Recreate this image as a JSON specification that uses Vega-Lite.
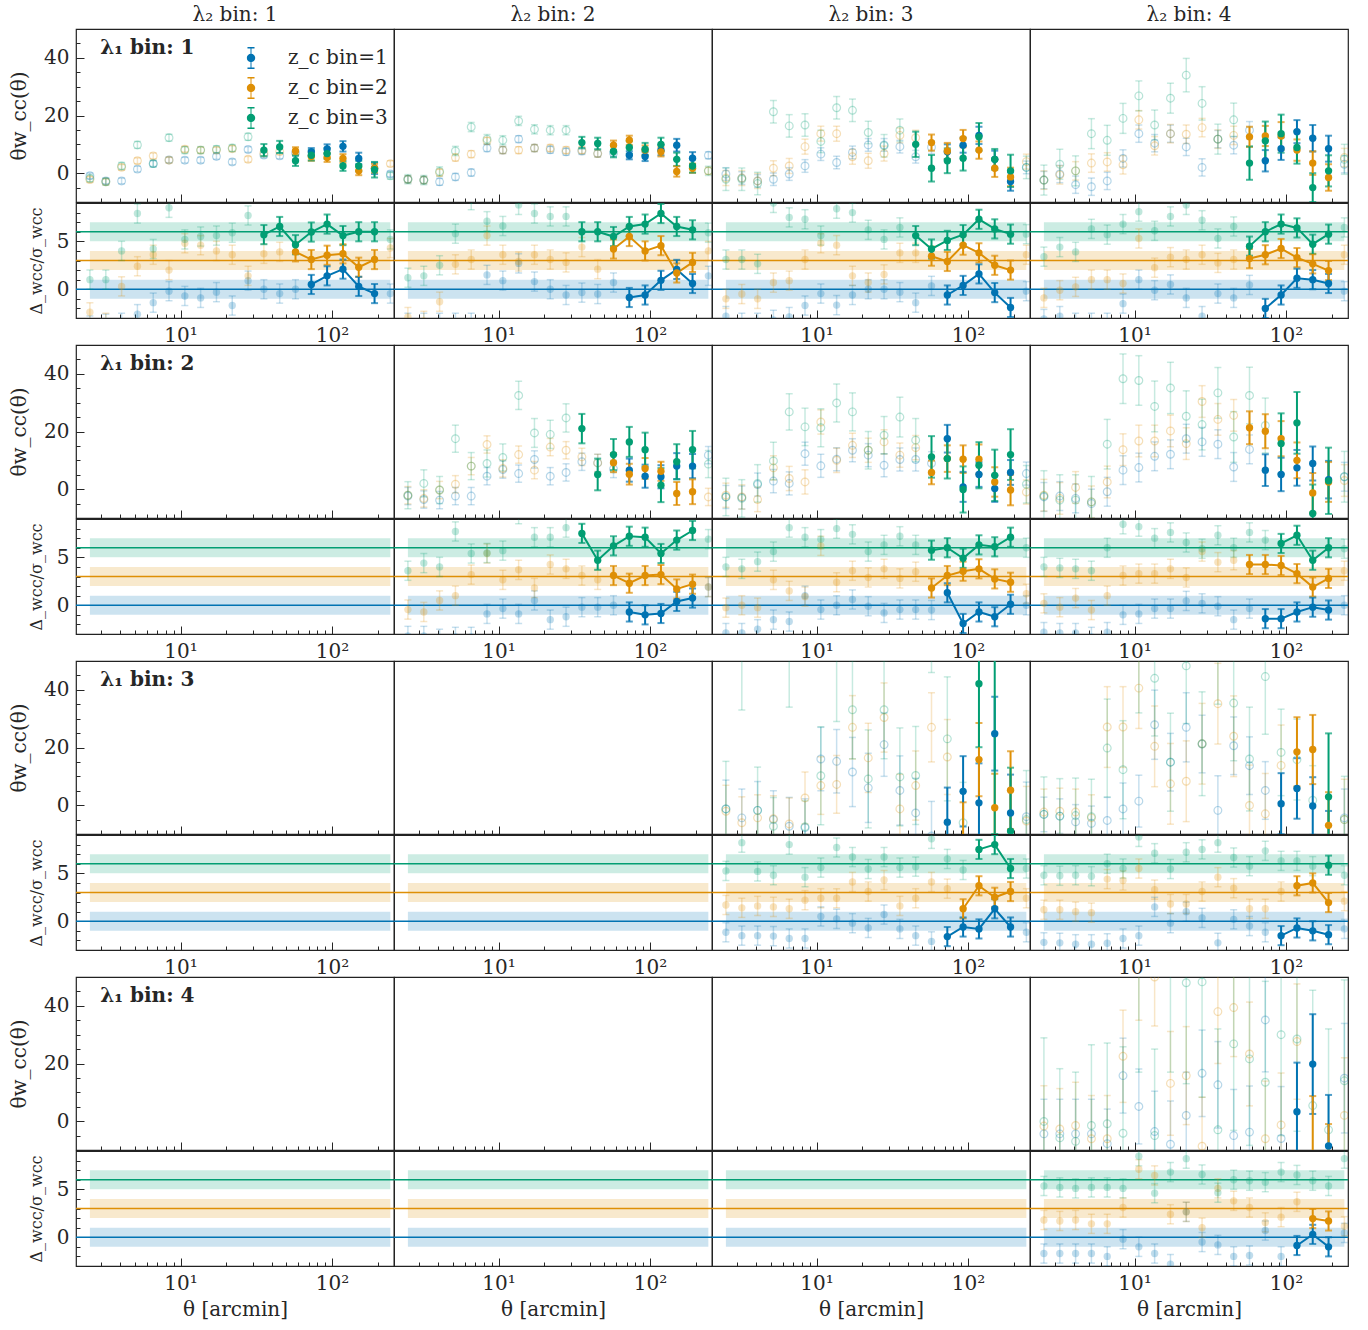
{
"$schema":"https://vega.github.io/schema/vega-lite/v6.json",
"background":"white",
"padding":{"left":9,"top":5,"right":5,"bottom":5},
"config":{
 "font":"DejaVu Serif",
 "view":{"stroke":"#222222","strokeWidth":1.2},
 "legend":{"disable":true},
 "axis":{"grid":false,"domain":false,"labelFont":"DejaVu Serif","titleFont":"DejaVu Serif","labelFontSize":20,"titleFontSize":20,"titleFontWeight":"normal","labelColor":"#262626","titleColor":"#262626","tickColor":"#262626","tickWidth":1},
 "header":{"labelFont":"DejaVu Serif","labelFontSize":20,"labelColor":"#262626","labelPadding":4}
},
"data":{"values":[
{"p":11,"lab":"λ₁ bin: 1"},{"p":21,"lab":"λ₁ bin: 2"},{"p":31,"lab":"λ₁ bin: 3"},{"p":41,"lab":"λ₁ bin: 4"},
{"p":11,"z":1,"lo":-1,"c":0,"hi":1},{"p":11,"z":2,"lo":2,"c":3,"hi":4},{"p":11,"z":3,"lo":5,"c":6,"hi":7},
{"p":12,"z":1,"lo":-1,"c":0,"hi":1},{"p":12,"z":2,"lo":2,"c":3,"hi":4},{"p":12,"z":3,"lo":5,"c":6,"hi":7},
{"p":13,"z":1,"lo":-1,"c":0,"hi":1},{"p":13,"z":2,"lo":2,"c":3,"hi":4},{"p":13,"z":3,"lo":5,"c":6,"hi":7},
{"p":14,"z":1,"lo":-1,"c":0,"hi":1},{"p":14,"z":2,"lo":2,"c":3,"hi":4},{"p":14,"z":3,"lo":5,"c":6,"hi":7},
{"p":21,"z":1,"lo":-1,"c":0,"hi":1},{"p":21,"z":2,"lo":2,"c":3,"hi":4},{"p":21,"z":3,"lo":5,"c":6,"hi":7},
{"p":22,"z":1,"lo":-1,"c":0,"hi":1},{"p":22,"z":2,"lo":2,"c":3,"hi":4},{"p":22,"z":3,"lo":5,"c":6,"hi":7},
{"p":23,"z":1,"lo":-1,"c":0,"hi":1},{"p":23,"z":2,"lo":2,"c":3,"hi":4},{"p":23,"z":3,"lo":5,"c":6,"hi":7},
{"p":24,"z":1,"lo":-1,"c":0,"hi":1},{"p":24,"z":2,"lo":2,"c":3,"hi":4},{"p":24,"z":3,"lo":5,"c":6,"hi":7},
{"p":31,"z":1,"lo":-1,"c":0,"hi":1},{"p":31,"z":2,"lo":2,"c":3,"hi":4},{"p":31,"z":3,"lo":5,"c":6,"hi":7},
{"p":32,"z":1,"lo":-1,"c":0,"hi":1},{"p":32,"z":2,"lo":2,"c":3,"hi":4},{"p":32,"z":3,"lo":5,"c":6,"hi":7},
{"p":33,"z":1,"lo":-1,"c":0,"hi":1},{"p":33,"z":2,"lo":2,"c":3,"hi":4},{"p":33,"z":3,"lo":5,"c":6,"hi":7},
{"p":34,"z":1,"lo":-1,"c":0,"hi":1},{"p":34,"z":2,"lo":2,"c":3,"hi":4},{"p":34,"z":3,"lo":5,"c":6,"hi":7},
{"p":41,"z":1,"lo":-1,"c":0,"hi":1},{"p":41,"z":2,"lo":2,"c":3,"hi":4},{"p":41,"z":3,"lo":5,"c":6,"hi":7},
{"p":42,"z":1,"lo":-1,"c":0,"hi":1},{"p":42,"z":2,"lo":2,"c":3,"hi":4},{"p":42,"z":3,"lo":5,"c":6,"hi":7},
{"p":43,"z":1,"lo":-1,"c":0,"hi":1},{"p":43,"z":2,"lo":2,"c":3,"hi":4},{"p":43,"z":3,"lo":5,"c":6,"hi":7},
{"p":44,"z":1,"lo":-1,"c":0,"hi":1},{"p":44,"z":2,"lo":2,"c":3,"hi":4},{"p":44,"z":3,"lo":5,"c":6,"hi":7},

{"p":11,"z":1,"t":2.52,"v":-0.9,"e":1,"r":-3.8,"s":1,"u":0},
{"p":11,"z":1,"t":3.21,"v":-2.7,"e":1,"r":-3.6,"s":1,"u":0},
{"p":11,"z":1,"t":4.08,"v":-2.7,"e":1,"r":-3.5,"s":1,"u":0},
{"p":11,"z":1,"t":5.19,"v":1.4,"e":1,"r":-2.6,"s":1,"u":0},
{"p":11,"z":1,"t":6.6,"v":3.3,"e":1,"r":-1.4,"s":1,"u":0},
{"p":11,"z":1,"t":8.39,"v":4.6,"e":1,"r":-0.2,"s":1,"u":0},
{"p":11,"z":1,"t":10.67,"v":4.5,"e":1,"r":-0.7,"s":1,"u":0},
{"p":11,"z":1,"t":13.57,"v":4.5,"e":1,"r":-0.9,"s":1,"u":0},
{"p":11,"z":1,"t":17.26,"v":5.8,"e":1,"r":-0.3,"s":1,"u":0},
{"p":11,"z":1,"t":21.94,"v":3.9,"e":1,"r":-1.7,"s":1,"u":0},
{"p":11,"z":1,"t":27.91,"v":8.2,"e":1,"r":0.9,"s":1,"u":0},
{"p":11,"z":1,"t":35.49,"v":6.3,"e":1,"r":0,"s":1,"u":0},
{"p":11,"z":1,"t":45.13,"v":6,"e":1,"r":-0.45,"s":1,"u":0},
{"p":11,"z":1,"t":57.4,"v":7,"e":1,"r":0,"s":1,"u":0},
{"p":11,"z":1,"t":73,"v":7.4,"e":1.3,"r":0.5,"s":1,"u":1},
{"p":11,"z":1,"t":92.8,"v":8.4,"e":1.6,"r":1.4,"s":1,"u":1},
{"p":11,"z":1,"t":118.1,"v":9.3,"e":1.8,"r":2.1,"s":1,"u":1},
{"p":11,"z":1,"t":150.1,"v":5.1,"e":2,"r":0.3,"s":1,"u":1},
{"p":11,"z":1,"t":190.9,"v":1.7,"e":2,"r":-0.45,"s":1,"u":1},
{"p":11,"z":1,"t":242.8,"v":-0.3,"e":1,"r":-0.45,"s":1,"u":0},
{"p":11,"z":2,"t":2.52,"v":-2.2,"e":1,"r":-2.4,"s":1,"u":0},
{"p":11,"z":2,"t":3.21,"v":-3,"e":1,"r":-3.5,"s":1,"u":0},
{"p":11,"z":2,"t":4.08,"v":2,"e":1,"r":0.3,"s":1,"u":0},
{"p":11,"z":2,"t":5.19,"v":4.3,"e":1,"r":2.4,"s":1,"u":0},
{"p":11,"z":2,"t":6.6,"v":6,"e":1,"r":3.6,"s":1,"u":0},
{"p":11,"z":2,"t":8.39,"v":4.5,"e":1,"r":2,"s":1,"u":0},
{"p":11,"z":2,"t":10.67,"v":8.3,"e":1,"r":4.8,"s":1,"u":0},
{"p":11,"z":2,"t":13.57,"v":8,"e":1,"r":4.6,"s":1,"u":0},
{"p":11,"z":2,"t":17.26,"v":8,"e":1,"r":4,"s":1,"u":0},
{"p":11,"z":2,"t":21.94,"v":8.5,"e":1,"r":3.6,"s":1,"u":0},
{"p":11,"z":2,"t":27.91,"v":4.8,"e":1,"r":1.4,"s":1,"u":0},
{"p":11,"z":2,"t":35.49,"v":7,"e":1,"r":3.7,"s":1,"u":0},
{"p":11,"z":2,"t":45.13,"v":7.5,"e":1,"r":3.9,"s":1,"u":0},
{"p":11,"z":2,"t":57.4,"v":7.7,"e":1.3,"r":3.9,"s":1,"u":1},
{"p":11,"z":2,"t":73,"v":5.8,"e":1.5,"r":3.1,"s":1,"u":1},
{"p":11,"z":2,"t":92.8,"v":5.4,"e":1.5,"r":3.55,"s":1,"u":1},
{"p":11,"z":2,"t":118.1,"v":5.1,"e":1.5,"r":3.7,"s":1,"u":1},
{"p":11,"z":2,"t":150.1,"v":0.8,"e":1.5,"r":2.3,"s":1,"u":1},
{"p":11,"z":2,"t":190.9,"v":1.7,"e":1.5,"r":3.1,"s":1,"u":1},
{"p":11,"z":2,"t":242.8,"v":3.3,"e":1,"r":4.3,"s":1,"u":0},
{"p":11,"z":3,"t":2.52,"v":-1.8,"e":1.2,"r":1,"s":1,"u":0},
{"p":11,"z":3,"t":3.21,"v":-3,"e":1.2,"r":1,"s":1,"u":0},
{"p":11,"z":3,"t":4.08,"v":2.5,"e":1.2,"r":4,"s":1,"u":0},
{"p":11,"z":3,"t":5.19,"v":9.8,"e":1.2,"r":7.9,"s":1,"u":0},
{"p":11,"z":3,"t":6.6,"v":3.3,"e":1.2,"r":4.2,"s":1,"u":0},
{"p":11,"z":3,"t":8.39,"v":12.3,"e":1.2,"r":8.5,"s":1,"u":0},
{"p":11,"z":3,"t":10.67,"v":8,"e":1.2,"r":5.2,"s":1,"u":0},
{"p":11,"z":3,"t":13.57,"v":8,"e":1.2,"r":5.5,"s":1,"u":0},
{"p":11,"z":3,"t":17.26,"v":8.3,"e":1.2,"r":5.6,"s":1,"u":0},
{"p":11,"z":3,"t":21.94,"v":8.7,"e":1.2,"r":5.9,"s":1,"u":0},
{"p":11,"z":3,"t":27.91,"v":12.6,"e":1.2,"r":7.7,"s":1,"u":0},
{"p":11,"z":3,"t":35.49,"v":8,"e":2.1,"r":5.7,"s":1,"u":1},
{"p":11,"z":3,"t":45.13,"v":9.1,"e":2.1,"r":6.55,"s":1,"u":1},
{"p":11,"z":3,"t":57.4,"v":4.3,"e":1.8,"r":4.65,"s":1,"u":1},
{"p":11,"z":3,"t":73,"v":6.2,"e":1.8,"r":5.97,"s":1,"u":1},
{"p":11,"z":3,"t":92.8,"v":6.8,"e":1.8,"r":6.8,"s":1,"u":1},
{"p":11,"z":3,"t":118.1,"v":2.5,"e":1.7,"r":5.6,"s":1,"u":1},
{"p":11,"z":3,"t":150.1,"v":2.5,"e":1.8,"r":6,"s":1,"u":1},
{"p":11,"z":3,"t":190.9,"v":1.2,"e":2.7,"r":6,"s":1,"u":1},
{"p":11,"z":3,"t":242.8,"v":-0.9,"e":1.2,"r":5.2,"s":1,"u":0},

{"p":12,"z":1,"t":2.52,"v":-2.1,"e":1.2,"r":-3.5,"s":1,"u":0},
{"p":12,"z":1,"t":3.21,"v":-2.4,"e":1.2,"r":-3.5,"s":1,"u":0},
{"p":12,"z":1,"t":4.08,"v":-3,"e":1.2,"r":-3.5,"s":1,"u":0},
{"p":12,"z":1,"t":5.19,"v":-1.3,"e":1.2,"r":-3.5,"s":1,"u":0},
{"p":12,"z":1,"t":6.6,"v":0.2,"e":1.2,"r":-3.5,"s":1,"u":0},
{"p":12,"z":1,"t":8.39,"v":8.7,"e":1.2,"r":1.5,"s":1,"u":0},
{"p":12,"z":1,"t":10.67,"v":8,"e":1.2,"r":0.9,"s":1,"u":0},
{"p":12,"z":1,"t":13.57,"v":11.8,"e":1.2,"r":2.7,"s":1,"u":0},
{"p":12,"z":1,"t":17.26,"v":8.7,"e":1.2,"r":0.8,"s":1,"u":0},
{"p":12,"z":1,"t":21.94,"v":8.1,"e":1.2,"r":0,"s":1,"u":0},
{"p":12,"z":1,"t":27.91,"v":7.4,"e":1.2,"r":-0.6,"s":1,"u":0},
{"p":12,"z":1,"t":35.49,"v":7.7,"e":1.2,"r":-0.35,"s":1,"u":0},
{"p":12,"z":1,"t":45.13,"v":6.8,"e":1.2,"r":-0.5,"s":1,"u":0},
{"p":12,"z":1,"t":57.4,"v":7,"e":1.2,"r":0.7,"s":1,"u":0},
{"p":12,"z":1,"t":73,"v":6.2,"e":1.4,"r":-0.86,"s":1,"u":1},
{"p":12,"z":1,"t":92.8,"v":5.8,"e":1.6,"r":-0.6,"s":1,"u":1},
{"p":12,"z":1,"t":118.1,"v":8,"e":1.8,"r":0.93,"s":1,"u":1},
{"p":12,"z":1,"t":150.1,"v":9.7,"e":2.2,"r":2.07,"s":1,"u":1},
{"p":12,"z":1,"t":190.9,"v":5.2,"e":2.1,"r":0.6,"s":1,"u":1},
{"p":12,"z":1,"t":242.8,"v":6.2,"e":1.2,"r":1.4,"s":1,"u":0},
{"p":12,"z":2,"t":2.52,"v":-2.1,"e":1.2,"r":-2.9,"s":1,"u":0},
{"p":12,"z":2,"t":3.21,"v":-2.4,"e":1.2,"r":-3.3,"s":1,"u":0},
{"p":12,"z":2,"t":4.08,"v":0.2,"e":1.2,"r":-1.3,"s":1,"u":0},
{"p":12,"z":2,"t":5.19,"v":5.4,"e":1.2,"r":2.6,"s":1,"u":0},
{"p":12,"z":2,"t":6.6,"v":6.6,"e":1.2,"r":3.1,"s":1,"u":0},
{"p":12,"z":2,"t":8.39,"v":11.2,"e":1.2,"r":5.6,"s":1,"u":0},
{"p":12,"z":2,"t":10.67,"v":8,"e":1.2,"r":3.6,"s":1,"u":0},
{"p":12,"z":2,"t":13.57,"v":8,"e":1.2,"r":2.9,"s":1,"u":0},
{"p":12,"z":2,"t":17.26,"v":8.7,"e":1.2,"r":3.6,"s":1,"u":0},
{"p":12,"z":2,"t":21.94,"v":8.7,"e":1.2,"r":3.1,"s":1,"u":0},
{"p":12,"z":2,"t":27.91,"v":8,"e":1.2,"r":2.8,"s":1,"u":0},
{"p":12,"z":2,"t":35.49,"v":8,"e":1.2,"r":4.4,"s":1,"u":0},
{"p":12,"z":2,"t":45.13,"v":6.8,"e":1.2,"r":2.1,"s":1,"u":0},
{"p":12,"z":2,"t":57.4,"v":9.7,"e":1.6,"r":4.2,"s":1,"u":1},
{"p":12,"z":2,"t":73,"v":11.4,"e":1.6,"r":5.5,"s":1,"u":1},
{"p":12,"z":2,"t":92.8,"v":8,"e":1.6,"r":4,"s":1,"u":1},
{"p":12,"z":2,"t":118.1,"v":7.4,"e":1.6,"r":4.55,"s":1,"u":1},
{"p":12,"z":2,"t":150.1,"v":0.6,"e":1.8,"r":1.7,"s":1,"u":1},
{"p":12,"z":2,"t":190.9,"v":1.7,"e":1.6,"r":2.8,"s":1,"u":1},
{"p":12,"z":2,"t":242.8,"v":0.8,"e":1.2,"r":4,"s":1,"u":0},
{"p":12,"z":3,"t":2.52,"v":-2.1,"e":1.6,"r":1.2,"s":1,"u":0},
{"p":12,"z":3,"t":3.21,"v":-2.4,"e":1.6,"r":1.4,"s":1,"u":0},
{"p":12,"z":3,"t":4.08,"v":0.6,"e":1.6,"r":2.5,"s":1,"u":0},
{"p":12,"z":3,"t":5.19,"v":7.7,"e":1.6,"r":5.8,"s":1,"u":0},
{"p":12,"z":3,"t":6.6,"v":16,"e":1.6,"r":9.3,"s":1,"u":0},
{"p":12,"z":3,"t":8.39,"v":11.8,"e":1.6,"r":7.1,"s":1,"u":0},
{"p":12,"z":3,"t":10.67,"v":11.4,"e":1.6,"r":6.6,"s":1,"u":0},
{"p":12,"z":3,"t":13.57,"v":18.1,"e":1.6,"r":8.8,"s":1,"u":0},
{"p":12,"z":3,"t":17.26,"v":15.2,"e":1.6,"r":7.9,"s":1,"u":0},
{"p":12,"z":3,"t":21.94,"v":14.9,"e":1.6,"r":7.6,"s":1,"u":0},
{"p":12,"z":3,"t":27.91,"v":14.9,"e":1.6,"r":7.6,"s":1,"u":0},
{"p":12,"z":3,"t":35.49,"v":10.6,"e":2,"r":6,"s":1,"u":1},
{"p":12,"z":3,"t":45.13,"v":10.3,"e":2,"r":6,"s":1,"u":1},
{"p":12,"z":3,"t":57.4,"v":7.5,"e":2,"r":5.5,"s":1,"u":1},
{"p":12,"z":3,"t":73,"v":8.9,"e":2.2,"r":6.55,"s":1,"u":1},
{"p":12,"z":3,"t":92.8,"v":8.3,"e":2.2,"r":6.8,"s":1,"u":1},
{"p":12,"z":3,"t":118.1,"v":10,"e":2.3,"r":7.9,"s":1,"u":1},
{"p":12,"z":3,"t":150.1,"v":4.8,"e":2.3,"r":6.55,"s":1,"u":1},
{"p":12,"z":3,"t":190.9,"v":2.5,"e":2.3,"r":6.2,"s":1,"u":1},
{"p":12,"z":3,"t":242.8,"v":0.8,"e":1.6,"r":5.9,"s":1,"u":0},

{"p":13,"z":1,"t":2.52,"v":-0.3,"e":2.2,"r":-2.8,"s":1,"u":0},
{"p":13,"z":1,"t":3.21,"v":-1.7,"e":2.2,"r":-3.5,"s":1,"u":0},
{"p":13,"z":1,"t":4.08,"v":-2.7,"e":2.2,"r":-3.5,"s":1,"u":0},
{"p":13,"z":1,"t":5.19,"v":-2.1,"e":2.2,"r":-3.2,"s":1,"u":0},
{"p":13,"z":1,"t":6.6,"v":-0.3,"e":2.2,"r":-2.9,"s":1,"u":0},
{"p":13,"z":1,"t":8.39,"v":2.5,"e":2.2,"r":-1.7,"s":1,"u":0},
{"p":13,"z":1,"t":10.67,"v":6.6,"e":2.2,"r":-0.45,"s":1,"u":0},
{"p":13,"z":1,"t":13.57,"v":3.7,"e":2.2,"r":-1.65,"s":1,"u":0},
{"p":13,"z":1,"t":17.26,"v":7.2,"e":2.2,"r":-0.6,"s":1,"u":0},
{"p":13,"z":1,"t":21.94,"v":9.8,"e":2.2,"r":0,"s":1,"u":0},
{"p":13,"z":1,"t":27.91,"v":9.8,"e":2.2,"r":0,"s":1,"u":0},
{"p":13,"z":1,"t":35.49,"v":9.2,"e":2.2,"r":-0.3,"s":1,"u":0},
{"p":13,"z":1,"t":45.13,"v":5.7,"e":2.2,"r":-1.4,"s":1,"u":0},
{"p":13,"z":1,"t":57.4,"v":9,"e":2.2,"r":0.35,"s":1,"u":0},
{"p":13,"z":1,"t":73,"v":7.4,"e":2.6,"r":-0.6,"s":1,"u":1},
{"p":13,"z":1,"t":92.8,"v":9.7,"e":2.6,"r":0.4,"s":1,"u":1},
{"p":13,"z":1,"t":118.1,"v":13.1,"e":3,"r":1.6,"s":1,"u":1},
{"p":13,"z":1,"t":150.1,"v":4.8,"e":3,"r":-0.35,"s":1,"u":1},
{"p":13,"z":1,"t":190.9,"v":-2.9,"e":3.2,"r":-1.9,"s":1,"u":1},
{"p":13,"z":1,"t":242.8,"v":2,"e":2.2,"r":-0.2,"s":1,"u":0},
{"p":13,"z":2,"t":2.52,"v":-1.7,"e":2.6,"r":-1,"s":1,"u":0},
{"p":13,"z":2,"t":3.21,"v":-1.7,"e":2.6,"r":-0.5,"s":1,"u":0},
{"p":13,"z":2,"t":4.08,"v":-2.7,"e":2.6,"r":-1,"s":1,"u":0},
{"p":13,"z":2,"t":5.19,"v":1.7,"e":2.6,"r":0.7,"s":1,"u":0},
{"p":13,"z":2,"t":6.6,"v":2.5,"e":2.6,"r":0.9,"s":1,"u":0},
{"p":13,"z":2,"t":8.39,"v":9.2,"e":2.6,"r":3.1,"s":1,"u":0},
{"p":13,"z":2,"t":10.67,"v":13.7,"e":2.6,"r":4.8,"s":1,"u":0},
{"p":13,"z":2,"t":13.57,"v":13.7,"e":2.6,"r":4.6,"s":1,"u":0},
{"p":13,"z":2,"t":17.26,"v":5.7,"e":2.6,"r":1.4,"s":1,"u":0},
{"p":13,"z":2,"t":21.94,"v":4.3,"e":2.6,"r":0.7,"s":1,"u":0},
{"p":13,"z":2,"t":27.91,"v":6.8,"e":2.6,"r":1.55,"s":1,"u":0},
{"p":13,"z":2,"t":35.49,"v":13.1,"e":2.6,"r":3.8,"s":1,"u":0},
{"p":13,"z":2,"t":45.13,"v":12.3,"e":2.6,"r":3.8,"s":1,"u":0},
{"p":13,"z":2,"t":57.4,"v":10.6,"e":2.8,"r":3.45,"s":1,"u":1},
{"p":13,"z":2,"t":73,"v":7.7,"e":2.8,"r":2.9,"s":1,"u":1},
{"p":13,"z":2,"t":92.8,"v":12,"e":3,"r":4.6,"s":1,"u":1},
{"p":13,"z":2,"t":118.1,"v":8,"e":3,"r":3.8,"s":1,"u":1},
{"p":13,"z":2,"t":150.1,"v":1.7,"e":3,"r":2.5,"s":1,"u":1},
{"p":13,"z":2,"t":190.9,"v":-1.3,"e":3.2,"r":2,"s":1,"u":1},
{"p":13,"z":2,"t":242.8,"v":4,"e":2.6,"r":3.6,"s":1,"u":0},
{"p":13,"z":3,"t":2.52,"v":-2.1,"e":3.9,"r":3.1,"s":1,"u":0},
{"p":13,"z":3,"t":3.21,"v":-2.1,"e":3.9,"r":3.1,"s":1,"u":0},
{"p":13,"z":3,"t":4.08,"v":-3.6,"e":3.9,"r":2.65,"s":1,"u":0},
{"p":13,"z":3,"t":5.19,"v":21.3,"e":3.9,"r":9,"s":1,"u":0},
{"p":13,"z":3,"t":6.6,"v":16.4,"e":3.9,"r":7.5,"s":1,"u":0},
{"p":13,"z":3,"t":8.39,"v":16.7,"e":3.9,"r":7.3,"s":1,"u":0},
{"p":13,"z":3,"t":10.67,"v":11,"e":3.9,"r":5.6,"s":1,"u":0},
{"p":13,"z":3,"t":13.57,"v":22.7,"e":3.9,"r":8.4,"s":1,"u":0},
{"p":13,"z":3,"t":17.26,"v":21.8,"e":3.9,"r":8,"s":1,"u":0},
{"p":13,"z":3,"t":21.94,"v":14.1,"e":3.9,"r":6.2,"s":1,"u":0},
{"p":13,"z":3,"t":27.91,"v":9.5,"e":3.9,"r":5.2,"s":1,"u":0},
{"p":13,"z":3,"t":35.49,"v":14.9,"e":3.9,"r":6.45,"s":1,"u":0},
{"p":13,"z":3,"t":45.13,"v":10,"e":4.4,"r":5.6,"s":1,"u":1},
{"p":13,"z":3,"t":57.4,"v":1.7,"e":4.6,"r":4.2,"s":1,"u":1},
{"p":13,"z":3,"t":73,"v":4.3,"e":4.3,"r":5.1,"s":1,"u":1},
{"p":13,"z":3,"t":92.8,"v":5.2,"e":4.3,"r":5.7,"s":1,"u":1},
{"p":13,"z":3,"t":118.1,"v":12.6,"e":4.8,"r":7.3,"s":1,"u":1},
{"p":13,"z":3,"t":150.1,"v":4.8,"e":3.6,"r":6.3,"s":1,"u":1},
{"p":13,"z":3,"t":190.9,"v":0.8,"e":5.6,"r":5.75,"s":1,"u":1},
{"p":13,"z":3,"t":242.8,"v":2,"e":3.9,"r":5.75,"s":1,"u":0},

{"p":14,"z":1,"t":2.52,"v":-2.4,"e":3,"r":-3.1,"s":1,"u":0},
{"p":14,"z":1,"t":3.21,"v":-0.3,"e":3,"r":-2.8,"s":1,"u":0},
{"p":14,"z":1,"t":4.08,"v":-4,"e":3,"r":-3.5,"s":1,"u":0},
{"p":14,"z":1,"t":5.19,"v":-4.7,"e":3,"r":-3.5,"s":1,"u":0},
{"p":14,"z":1,"t":6.6,"v":-2.7,"e":3,"r":-3.5,"s":1,"u":0},
{"p":14,"z":1,"t":8.39,"v":5.1,"e":3,"r":-1.5,"s":1,"u":0},
{"p":14,"z":1,"t":10.67,"v":13.7,"e":3,"r":1,"s":1,"u":0},
{"p":14,"z":1,"t":13.57,"v":10.4,"e":3,"r":-0.1,"s":1,"u":0},
{"p":14,"z":1,"t":17.26,"v":13.7,"e":3,"r":0.5,"s":1,"u":0},
{"p":14,"z":1,"t":21.94,"v":9.1,"e":3,"r":-0.9,"s":1,"u":0},
{"p":14,"z":1,"t":27.91,"v":2,"e":3,"r":-2.8,"s":1,"u":0},
{"p":14,"z":1,"t":35.49,"v":11.8,"e":3,"r":-0.45,"s":1,"u":0},
{"p":14,"z":1,"t":45.13,"v":9.7,"e":3,"r":-0.9,"s":1,"u":0},
{"p":14,"z":1,"t":57.4,"v":14.9,"e":3,"r":0.45,"s":1,"u":0},
{"p":14,"z":1,"t":73,"v":4.3,"e":3.7,"r":-2,"s":1,"u":1},
{"p":14,"z":1,"t":92.8,"v":8.5,"e":3.9,"r":-0.6,"s":1,"u":1},
{"p":14,"z":1,"t":118.1,"v":14.4,"e":4,"r":1.15,"s":1,"u":1},
{"p":14,"z":1,"t":150.1,"v":12.1,"e":4.6,"r":1,"s":1,"u":1},
{"p":14,"z":1,"t":190.9,"v":8.5,"e":4.5,"r":0.6,"s":1,"u":1},
{"p":14,"z":1,"t":242.8,"v":3.1,"e":3,"r":-0.2,"s":1,"u":0},
{"p":14,"z":2,"t":2.52,"v":-2.4,"e":3.2,"r":-0.9,"s":1,"u":0},
{"p":14,"z":2,"t":3.21,"v":-0.6,"e":3.2,"r":-0.1,"s":1,"u":0},
{"p":14,"z":2,"t":4.08,"v":0.8,"e":3.2,"r":0.25,"s":1,"u":0},
{"p":14,"z":2,"t":5.19,"v":3.5,"e":3.2,"r":1,"s":1,"u":0},
{"p":14,"z":2,"t":6.6,"v":3.9,"e":3.2,"r":1,"s":1,"u":0},
{"p":14,"z":2,"t":8.39,"v":2.9,"e":3.2,"r":0.6,"s":1,"u":0},
{"p":14,"z":2,"t":10.67,"v":18.5,"e":3.2,"r":5.3,"s":1,"u":0},
{"p":14,"z":2,"t":13.57,"v":9.5,"e":3.2,"r":2.25,"s":1,"u":0},
{"p":14,"z":2,"t":17.26,"v":13.7,"e":3.2,"r":3.35,"s":1,"u":0},
{"p":14,"z":2,"t":21.94,"v":13.5,"e":3.2,"r":3.1,"s":1,"u":0},
{"p":14,"z":2,"t":27.91,"v":15.8,"e":3.2,"r":3.6,"s":1,"u":0},
{"p":14,"z":2,"t":35.49,"v":11.8,"e":3.2,"r":2.75,"s":1,"u":0},
{"p":14,"z":2,"t":45.13,"v":13.1,"e":3.2,"r":3.1,"s":1,"u":0},
{"p":14,"z":2,"t":57.4,"v":12.6,"e":3.5,"r":3.2,"s":1,"u":1},
{"p":14,"z":2,"t":73,"v":12.9,"e":3.5,"r":3.6,"s":1,"u":1},
{"p":14,"z":2,"t":92.8,"v":12.9,"e":4.8,"r":4.25,"s":1,"u":1},
{"p":14,"z":2,"t":118.1,"v":8,"e":3.7,"r":3.3,"s":1,"u":1},
{"p":14,"z":2,"t":150.1,"v":3.5,"e":4.1,"r":2.65,"s":1,"u":1},
{"p":14,"z":2,"t":190.9,"v":-1.5,"e":4.6,"r":1.95,"s":1,"u":1},
{"p":14,"z":2,"t":242.8,"v":5.4,"e":3.2,"r":3.6,"s":1,"u":0},
{"p":14,"z":3,"t":2.52,"v":-2.4,"e":5.2,"r":3.4,"s":1,"u":0},
{"p":14,"z":3,"t":3.21,"v":3.1,"e":5.2,"r":4.4,"s":1,"u":0},
{"p":14,"z":3,"t":4.08,"v":0.8,"e":5.2,"r":3.9,"s":1,"u":0},
{"p":14,"z":3,"t":5.19,"v":13.7,"e":5.2,"r":6.3,"s":1,"u":0},
{"p":14,"z":3,"t":6.6,"v":11.4,"e":5.2,"r":5.7,"s":1,"u":0},
{"p":14,"z":3,"t":8.39,"v":19,"e":5.2,"r":6.8,"s":1,"u":0},
{"p":14,"z":3,"t":10.67,"v":26.8,"e":5.2,"r":8.1,"s":1,"u":0},
{"p":14,"z":3,"t":13.57,"v":16.7,"e":5.2,"r":6.1,"s":1,"u":0},
{"p":14,"z":3,"t":17.26,"v":26,"e":5.2,"r":7.6,"s":1,"u":0},
{"p":14,"z":3,"t":21.94,"v":34,"e":5.8,"r":8.8,"s":1,"u":0},
{"p":14,"z":3,"t":27.91,"v":24.2,"e":5.8,"r":7.2,"s":1,"u":0},
{"p":14,"z":3,"t":35.49,"v":11.8,"e":5.2,"r":5.3,"s":1,"u":0},
{"p":14,"z":3,"t":45.13,"v":18.5,"e":5.8,"r":6.55,"s":1,"u":0},
{"p":14,"z":3,"t":57.4,"v":3.5,"e":5.8,"r":4.5,"s":1,"u":1},
{"p":14,"z":3,"t":73,"v":11.2,"e":6.7,"r":6,"s":1,"u":1},
{"p":14,"z":3,"t":92.8,"v":13.7,"e":6.6,"r":6.8,"s":1,"u":1},
{"p":14,"z":3,"t":118.1,"v":8.9,"e":5.6,"r":6.4,"s":1,"u":1},
{"p":14,"z":3,"t":150.1,"v":-5,"e":5,"r":4.7,"s":1,"u":1},
{"p":14,"z":3,"t":190.9,"v":0.8,"e":5.4,"r":5.75,"s":1,"u":1},
{"p":14,"z":3,"t":242.8,"v":4.8,"e":5.2,"r":6.45,"s":1,"u":0},

{"p":22,"z":1,"t":2.52,"v":-2.4,"e":3,"r":-3.2,"s":1,"u":0},
{"p":22,"z":1,"t":3.21,"v":-3.6,"e":3,"r":-3.2,"s":1,"u":0},
{"p":22,"z":1,"t":4.08,"v":-3.8,"e":3,"r":-3.5,"s":1,"u":0},
{"p":22,"z":1,"t":5.19,"v":-2.4,"e":3,"r":-3.3,"s":1,"u":0},
{"p":22,"z":1,"t":6.6,"v":-2.4,"e":3,"r":-3.3,"s":1,"u":0},
{"p":22,"z":1,"t":8.39,"v":4.5,"e":3,"r":-0.9,"s":1,"u":0},
{"p":22,"z":1,"t":10.67,"v":6.8,"e":3,"r":-0.35,"s":1,"u":0},
{"p":22,"z":1,"t":13.57,"v":5.4,"e":3,"r":-0.9,"s":1,"u":0},
{"p":22,"z":1,"t":17.26,"v":10.3,"e":3,"r":0.5,"s":1,"u":0},
{"p":22,"z":1,"t":21.94,"v":4.5,"e":3,"r":-1.5,"s":1,"u":0},
{"p":22,"z":1,"t":27.91,"v":5.8,"e":3,"r":-1.2,"s":1,"u":0},
{"p":22,"z":1,"t":35.49,"v":9.5,"e":3,"r":-0.2,"s":1,"u":0},
{"p":22,"z":1,"t":45.13,"v":9.1,"e":3,"r":-0.2,"s":1,"u":0},
{"p":22,"z":1,"t":57.4,"v":7,"e":3,"r":0,"s":1,"u":0},
{"p":22,"z":1,"t":73,"v":6.6,"e":4,"r":-0.7,"s":1,"u":1},
{"p":22,"z":1,"t":92.8,"v":4.5,"e":4,"r":-1,"s":1,"u":1},
{"p":22,"z":1,"t":118.1,"v":4.3,"e":4,"r":-0.86,"s":1,"u":1},
{"p":22,"z":1,"t":150.1,"v":8,"e":4.5,"r":0.4,"s":1,"u":1},
{"p":22,"z":1,"t":190.9,"v":8,"e":4.2,"r":0.75,"s":1,"u":1},
{"p":22,"z":1,"t":242.8,"v":11.8,"e":3,"r":1.9,"s":1,"u":0},
{"p":22,"z":2,"t":2.52,"v":-2.1,"e":3,"r":-0.45,"s":1,"u":0},
{"p":22,"z":2,"t":3.21,"v":-3.2,"e":3,"r":-0.7,"s":1,"u":0},
{"p":22,"z":2,"t":4.08,"v":-0.3,"e":3,"r":0.5,"s":1,"u":0},
{"p":22,"z":2,"t":5.19,"v":1.7,"e":3,"r":1,"s":1,"u":0},
{"p":22,"z":2,"t":6.6,"v":8,"e":3,"r":3.2,"s":1,"u":0},
{"p":22,"z":2,"t":8.39,"v":15.5,"e":3,"r":5.4,"s":1,"u":0},
{"p":22,"z":2,"t":10.67,"v":7.2,"e":3,"r":2.65,"s":1,"u":0},
{"p":22,"z":2,"t":13.57,"v":12,"e":3,"r":3.7,"s":1,"u":0},
{"p":22,"z":2,"t":17.26,"v":6.6,"e":3,"r":1.8,"s":1,"u":0},
{"p":22,"z":2,"t":21.94,"v":14.6,"e":3,"r":4.25,"s":1,"u":0},
{"p":22,"z":2,"t":27.91,"v":13.5,"e":3,"r":3.8,"s":1,"u":0},
{"p":22,"z":2,"t":35.49,"v":11.2,"e":3,"r":3.1,"s":1,"u":0},
{"p":22,"z":2,"t":45.13,"v":9.1,"e":3,"r":2.65,"s":1,"u":0},
{"p":22,"z":2,"t":57.4,"v":9.2,"e":3.3,"r":3.1,"s":1,"u":1},
{"p":22,"z":2,"t":73,"v":5.2,"e":3.6,"r":2.3,"s":1,"u":1},
{"p":22,"z":2,"t":92.8,"v":7.2,"e":3.6,"r":3.1,"s":1,"u":1},
{"p":22,"z":2,"t":118.1,"v":6.2,"e":3.3,"r":3.2,"s":1,"u":1},
{"p":22,"z":2,"t":150.1,"v":-1.5,"e":4,"r":1.7,"s":1,"u":1},
{"p":22,"z":2,"t":190.9,"v":-0.9,"e":4.3,"r":2.2,"s":1,"u":1},
{"p":22,"z":2,"t":242.8,"v":-2.7,"e":3,"r":1.9,"s":1,"u":0},
{"p":22,"z":3,"t":2.52,"v":-2.1,"e":4.7,"r":3.6,"s":1,"u":0},
{"p":22,"z":3,"t":3.21,"v":2,"e":4.7,"r":4.4,"s":1,"u":0},
{"p":22,"z":3,"t":4.08,"v":-0.3,"e":4.7,"r":4,"s":1,"u":0},
{"p":22,"z":3,"t":5.19,"v":17.5,"e":4.7,"r":7.7,"s":1,"u":0},
{"p":22,"z":3,"t":6.6,"v":8,"e":4.7,"r":5.4,"s":1,"u":0},
{"p":22,"z":3,"t":8.39,"v":8.9,"e":4.7,"r":5.45,"s":1,"u":0},
{"p":22,"z":3,"t":10.67,"v":11,"e":4.7,"r":5.7,"s":1,"u":0},
{"p":22,"z":3,"t":13.57,"v":32.5,"e":4.9,"r":9.5,"s":1,"u":0},
{"p":22,"z":3,"t":17.26,"v":19.5,"e":5,"r":7.1,"s":1,"u":0},
{"p":22,"z":3,"t":21.94,"v":19,"e":4.9,"r":7.1,"s":1,"u":0},
{"p":22,"z":3,"t":27.91,"v":24.7,"e":4.9,"r":8.1,"s":1,"u":0},
{"p":22,"z":3,"t":35.49,"v":21,"e":5.1,"r":7.5,"s":1,"u":1},
{"p":22,"z":3,"t":45.13,"v":5.1,"e":5.5,"r":4.7,"s":1,"u":1},
{"p":22,"z":3,"t":57.4,"v":12,"e":5.4,"r":6.2,"s":1,"u":1},
{"p":22,"z":3,"t":73,"v":16.4,"e":5.2,"r":7.2,"s":1,"u":1},
{"p":22,"z":3,"t":92.8,"v":13.7,"e":5.9,"r":7.1,"s":1,"u":1},
{"p":22,"z":3,"t":118.1,"v":1.4,"e":5.9,"r":5.4,"s":1,"u":1},
{"p":22,"z":3,"t":150.1,"v":9.5,"e":6.1,"r":6.8,"s":1,"u":1},
{"p":22,"z":3,"t":190.9,"v":13.7,"e":6.5,"r":7.8,"s":1,"u":1},
{"p":22,"z":3,"t":242.8,"v":8.7,"e":4.7,"r":6.9,"s":1,"u":0},

{"p":23,"z":1,"t":2.52,"v":-2.7,"e":4,"r":-2.9,"s":1,"u":0},
{"p":23,"z":1,"t":3.21,"v":-2.9,"e":4,"r":-2.9,"s":1,"u":0},
{"p":23,"z":1,"t":4.08,"v":1.6,"e":4,"r":-2.5,"s":1,"u":0},
{"p":23,"z":1,"t":5.19,"v":2.8,"e":4,"r":-1.5,"s":1,"u":0},
{"p":23,"z":1,"t":6.6,"v":2,"e":4,"r":-1.7,"s":1,"u":0},
{"p":23,"z":1,"t":8.39,"v":12.3,"e":4,"r":1,"s":1,"u":0},
{"p":23,"z":1,"t":10.67,"v":8.1,"e":4,"r":-0.45,"s":1,"u":0},
{"p":23,"z":1,"t":13.57,"v":10.4,"e":4,"r":0,"s":1,"u":0},
{"p":23,"z":1,"t":17.26,"v":13.5,"e":4,"r":0.6,"s":1,"u":0},
{"p":23,"z":1,"t":21.94,"v":11.8,"e":4,"r":-0.1,"s":1,"u":0},
{"p":23,"z":1,"t":27.91,"v":8.3,"e":4,"r":-0.8,"s":1,"u":0},
{"p":23,"z":1,"t":35.49,"v":10.3,"e":4,"r":-0.45,"s":1,"u":0},
{"p":23,"z":1,"t":45.13,"v":10.3,"e":4,"r":-0.45,"s":1,"u":0},
{"p":23,"z":1,"t":57.4,"v":9,"e":4,"r":-0.5,"s":1,"u":0},
{"p":23,"z":1,"t":73,"v":17.5,"e":4.8,"r":1.3,"s":1,"u":1},
{"p":23,"z":1,"t":92.8,"v":0.8,"e":5.2,"r":-1.9,"s":1,"u":1},
{"p":23,"z":1,"t":118.1,"v":5.1,"e":4.3,"r":-0.7,"s":1,"u":1},
{"p":23,"z":1,"t":150.1,"v":0.2,"e":4.6,"r":-1.2,"s":1,"u":1},
{"p":23,"z":1,"t":190.9,"v":5.8,"e":4.3,"r":0.1,"s":1,"u":1},
{"p":23,"z":1,"t":242.8,"v":5.4,"e":4,"r":0,"s":1,"u":0},
{"p":23,"z":2,"t":2.52,"v":-2.1,"e":4.2,"r":-0.25,"s":1,"u":0},
{"p":23,"z":2,"t":3.21,"v":-2.7,"e":4.2,"r":0,"s":1,"u":0},
{"p":23,"z":2,"t":4.08,"v":-3.6,"e":4.2,"r":-0.25,"s":1,"u":0},
{"p":23,"z":2,"t":5.19,"v":7.4,"e":4.2,"r":2.65,"s":1,"u":0},
{"p":23,"z":2,"t":6.6,"v":3.7,"e":4.2,"r":1.5,"s":1,"u":0},
{"p":23,"z":2,"t":8.39,"v":2.5,"e":4.2,"r":0.9,"s":1,"u":0},
{"p":23,"z":2,"t":10.67,"v":23.3,"e":4.2,"r":6.2,"s":1,"u":0},
{"p":23,"z":2,"t":13.57,"v":10,"e":4.2,"r":2.4,"s":1,"u":0},
{"p":23,"z":2,"t":17.26,"v":15.2,"e":4.2,"r":3.6,"s":1,"u":0},
{"p":23,"z":2,"t":21.94,"v":13.5,"e":4.2,"r":2.9,"s":1,"u":0},
{"p":23,"z":2,"t":27.91,"v":16.4,"e":4.2,"r":3.8,"s":1,"u":0},
{"p":23,"z":2,"t":35.49,"v":11.8,"e":4.2,"r":2.8,"s":1,"u":0},
{"p":23,"z":2,"t":45.13,"v":14.4,"e":4.2,"r":3.5,"s":1,"u":0},
{"p":23,"z":2,"t":57.4,"v":5.8,"e":4.1,"r":1.8,"s":1,"u":1},
{"p":23,"z":2,"t":73,"v":10.6,"e":4.6,"r":3.1,"s":1,"u":1},
{"p":23,"z":2,"t":92.8,"v":10.4,"e":4.8,"r":3.55,"s":1,"u":1},
{"p":23,"z":2,"t":118.1,"v":10.4,"e":5.1,"r":3.8,"s":1,"u":1},
{"p":23,"z":2,"t":150.1,"v":2.5,"e":5.1,"r":2.75,"s":1,"u":1},
{"p":23,"z":2,"t":190.9,"v":-0.3,"e":5.3,"r":2.4,"s":1,"u":1},
{"p":23,"z":2,"t":242.8,"v":-1,"e":4.2,"r":1.2,"s":1,"u":0},
{"p":23,"z":3,"t":2.52,"v":-2.7,"e":6.5,"r":4,"s":1,"u":0},
{"p":23,"z":3,"t":3.21,"v":-3.2,"e":6.5,"r":3.8,"s":1,"u":0},
{"p":23,"z":3,"t":4.08,"v":2,"e":6.5,"r":4.55,"s":1,"u":0},
{"p":23,"z":3,"t":5.19,"v":9.8,"e":6.5,"r":5.6,"s":1,"u":0},
{"p":23,"z":3,"t":6.6,"v":26.8,"e":6.3,"r":8.1,"s":1,"u":0},
{"p":23,"z":3,"t":8.39,"v":21.6,"e":6.5,"r":7.1,"s":1,"u":0},
{"p":23,"z":3,"t":10.67,"v":21.3,"e":6.6,"r":6.9,"s":1,"u":0},
{"p":23,"z":3,"t":13.57,"v":29.9,"e":6.6,"r":8,"s":1,"u":0},
{"p":23,"z":3,"t":17.26,"v":26.8,"e":6.6,"r":7.4,"s":1,"u":0},
{"p":23,"z":3,"t":21.94,"v":13.5,"e":6.5,"r":5.6,"s":1,"u":0},
{"p":23,"z":3,"t":27.91,"v":18.7,"e":6.5,"r":6.3,"s":1,"u":0},
{"p":23,"z":3,"t":35.49,"v":25,"e":6.9,"r":7.2,"s":1,"u":0},
{"p":23,"z":3,"t":45.13,"v":17,"e":7.5,"r":6.3,"s":1,"u":0},
{"p":23,"z":3,"t":57.4,"v":11.2,"e":7.2,"r":5.75,"s":1,"u":1},
{"p":23,"z":3,"t":73,"v":10.6,"e":6.9,"r":6,"s":1,"u":1},
{"p":23,"z":3,"t":92.8,"v":-0.1,"e":8,"r":4.9,"s":1,"u":1},
{"p":23,"z":3,"t":118.1,"v":8.3,"e":8,"r":6.3,"s":1,"u":1},
{"p":23,"z":3,"t":150.1,"v":4.8,"e":8.9,"r":6.1,"s":1,"u":1},
{"p":23,"z":3,"t":190.9,"v":12,"e":8.8,"r":7.1,"s":1,"u":1},
{"p":23,"z":3,"t":242.8,"v":1.7,"e":6.5,"r":6,"s":1,"u":0},

{"p":24,"z":1,"t":2.52,"v":-2.7,"e":5,"r":-2.8,"s":1,"u":0},
{"p":24,"z":1,"t":3.21,"v":-2.4,"e":5,"r":-2.9,"s":1,"u":0},
{"p":24,"z":1,"t":4.08,"v":-3.2,"e":5,"r":-2.9,"s":1,"u":0},
{"p":24,"z":1,"t":5.19,"v":-5,"e":5,"r":-3.3,"s":1,"u":0},
{"p":24,"z":1,"t":6.6,"v":-0.9,"e":5,"r":-2.8,"s":1,"u":0},
{"p":24,"z":1,"t":8.39,"v":6.6,"e":5,"r":-1,"s":1,"u":0},
{"p":24,"z":1,"t":10.67,"v":7.5,"e":5,"r":-0.9,"s":1,"u":0},
{"p":24,"z":1,"t":13.57,"v":11.4,"e":5,"r":-0.35,"s":1,"u":0},
{"p":24,"z":1,"t":17.26,"v":12.1,"e":5,"r":-0.35,"s":1,"u":0},
{"p":24,"z":1,"t":21.94,"v":17.5,"e":5,"r":0.45,"s":1,"u":0},
{"p":24,"z":1,"t":27.91,"v":16.4,"e":5,"r":0.2,"s":1,"u":0},
{"p":24,"z":1,"t":35.49,"v":15.6,"e":5,"r":-0.1,"s":1,"u":0},
{"p":24,"z":1,"t":45.13,"v":7.7,"e":5,"r":-1.5,"s":1,"u":0},
{"p":24,"z":1,"t":57.4,"v":13.8,"e":5,"r":-0.35,"s":1,"u":0},
{"p":24,"z":1,"t":73,"v":6.6,"e":5.5,"r":-1.4,"s":1,"u":1},
{"p":24,"z":1,"t":92.8,"v":5.1,"e":5.8,"r":-1.4,"s":1,"u":1},
{"p":24,"z":1,"t":118.1,"v":7.4,"e":6.2,"r":-0.7,"s":1,"u":1},
{"p":24,"z":1,"t":150.1,"v":8.9,"e":5.9,"r":-0.2,"s":1,"u":1},
{"p":24,"z":1,"t":190.9,"v":3.3,"e":6.5,"r":-0.5,"s":1,"u":1},
{"p":24,"z":1,"t":242.8,"v":4.3,"e":5,"r":0,"s":1,"u":0},
{"p":24,"z":2,"t":2.52,"v":-2.1,"e":5.5,"r":0.2,"s":1,"u":0},
{"p":24,"z":2,"t":3.21,"v":-3.2,"e":5.5,"r":-0.2,"s":1,"u":0},
{"p":24,"z":2,"t":4.08,"v":0.6,"e":5.5,"r":0.75,"s":1,"u":0},
{"p":24,"z":2,"t":5.19,"v":-4.4,"e":5.5,"r":-0.5,"s":1,"u":0},
{"p":24,"z":2,"t":6.6,"v":2.5,"e":5.5,"r":1,"s":1,"u":0},
{"p":24,"z":2,"t":8.39,"v":13.7,"e":5.5,"r":3.1,"s":1,"u":0},
{"p":24,"z":2,"t":10.67,"v":16.7,"e":5.5,"r":3.3,"s":1,"u":0},
{"p":24,"z":2,"t":13.57,"v":16.7,"e":5.5,"r":3.3,"s":1,"u":0},
{"p":24,"z":2,"t":17.26,"v":20.2,"e":5.5,"r":3.8,"s":1,"u":0},
{"p":24,"z":2,"t":21.94,"v":15.8,"e":5.5,"r":2.9,"s":1,"u":0},
{"p":24,"z":2,"t":27.91,"v":30.4,"e":5.5,"r":5.6,"s":1,"u":0},
{"p":24,"z":2,"t":35.49,"v":24.2,"e":5.5,"r":4.5,"s":1,"u":0},
{"p":24,"z":2,"t":45.13,"v":25.6,"e":5.5,"r":4.7,"s":1,"u":0},
{"p":24,"z":2,"t":57.4,"v":21.3,"e":5.7,"r":4.25,"s":1,"u":1},
{"p":24,"z":2,"t":73,"v":20.1,"e":5.9,"r":4.25,"s":1,"u":1},
{"p":24,"z":2,"t":92.8,"v":17.5,"e":6.1,"r":4.15,"s":1,"u":1},
{"p":24,"z":2,"t":118.1,"v":10,"e":6.2,"r":3.3,"s":1,"u":1},
{"p":24,"z":2,"t":150.1,"v":-1.3,"e":6.9,"r":1.9,"s":1,"u":1},
{"p":24,"z":2,"t":190.9,"v":2.5,"e":6.9,"r":2.8,"s":1,"u":1},
{"p":24,"z":2,"t":242.8,"v":3,"e":5.5,"r":3.6,"s":1,"u":0},
{"p":24,"z":3,"t":2.52,"v":-2.4,"e":8.8,"r":4,"s":1,"u":0},
{"p":24,"z":3,"t":3.21,"v":-3.8,"e":8.8,"r":3.9,"s":1,"u":0},
{"p":24,"z":3,"t":4.08,"v":-3.8,"e":8.8,"r":3.8,"s":1,"u":0},
{"p":24,"z":3,"t":5.19,"v":-4.4,"e":8.8,"r":3.6,"s":1,"u":0},
{"p":24,"z":3,"t":6.6,"v":15.6,"e":8.6,"r":6,"s":1,"u":0},
{"p":24,"z":3,"t":8.39,"v":38.3,"e":8.6,"r":8.45,"s":1,"u":0},
{"p":24,"z":3,"t":10.67,"v":37.7,"e":8.6,"r":8.2,"s":1,"u":0},
{"p":24,"z":3,"t":13.57,"v":28.7,"e":8.8,"r":7,"s":1,"u":0},
{"p":24,"z":3,"t":17.26,"v":35.1,"e":8.9,"r":7.6,"s":1,"u":0},
{"p":24,"z":3,"t":21.94,"v":25.3,"e":8.8,"r":6.55,"s":1,"u":0},
{"p":24,"z":3,"t":27.91,"v":22.4,"e":8.8,"r":5.9,"s":1,"u":0},
{"p":24,"z":3,"t":35.49,"v":33.4,"e":8.8,"r":7.3,"s":1,"u":0},
{"p":24,"z":3,"t":45.13,"v":18.1,"e":8.8,"r":6,"s":1,"u":0},
{"p":24,"z":3,"t":57.4,"v":32.5,"e":9.8,"r":7.6,"s":1,"u":0},
{"p":24,"z":3,"t":73,"v":22.1,"e":9.5,"r":6.8,"s":1,"u":0},
{"p":24,"z":3,"t":92.8,"v":15.8,"e":10.5,"r":6.45,"s":1,"u":1},
{"p":24,"z":3,"t":118.1,"v":23,"e":10.7,"r":7.3,"s":1,"u":1},
{"p":24,"z":3,"t":150.1,"v":-8.4,"e":10,"r":4.7,"s":1,"u":1},
{"p":24,"z":3,"t":190.9,"v":2.9,"e":11.5,"r":6,"s":1,"u":1},
{"p":24,"z":3,"t":242.8,"v":4.3,"e":8.8,"r":5.9,"s":1,"u":0},

{"p":33,"z":1,"t":2.52,"v":-1.3,"e":10,"r":-1.15,"s":1,"u":0},
{"p":33,"z":1,"t":3.21,"v":-4.4,"e":10,"r":-1.5,"s":1,"u":0},
{"p":33,"z":1,"t":4.08,"v":-1.8,"e":10,"r":-1.5,"s":1,"u":0},
{"p":33,"z":1,"t":5.19,"v":-5,"e":10,"r":-1.55,"s":1,"u":0},
{"p":33,"z":1,"t":6.6,"v":-7.3,"e":10,"r":-1.8,"s":1,"u":0},
{"p":33,"z":1,"t":8.39,"v":-7.8,"e":10,"r":-1.8,"s":1,"u":0},
{"p":33,"z":1,"t":10.67,"v":16,"e":11,"r":0.5,"s":1,"u":0},
{"p":33,"z":1,"t":13.57,"v":15.2,"e":11,"r":0.25,"s":1,"u":0},
{"p":33,"z":1,"t":17.26,"v":11.5,"e":12,"r":-0.2,"s":1,"u":0},
{"p":33,"z":1,"t":21.94,"v":6,"e":12,"r":-0.7,"s":1,"u":0},
{"p":33,"z":1,"t":27.91,"v":21,"e":11,"r":0.7,"s":1,"u":0},
{"p":33,"z":1,"t":35.49,"v":5.1,"e":12,"r":-0.8,"s":1,"u":0},
{"p":33,"z":1,"t":45.13,"v":-2.7,"e":12,"r":-1.5,"s":1,"u":0},
{"p":33,"z":1,"t":57.4,"v":-10.7,"e":12,"r":-2.1,"s":1,"u":0},
{"p":33,"z":1,"t":73,"v":-5.9,"e":12,"r":-1.6,"s":1,"u":1},
{"p":33,"z":1,"t":92.8,"v":4.8,"e":12.2,"r":-0.6,"s":1,"u":1},
{"p":33,"z":1,"t":118.1,"v":0.8,"e":13.7,"r":-0.8,"s":1,"u":1},
{"p":33,"z":1,"t":150.1,"v":24.8,"e":12.8,"r":1.3,"s":1,"u":1},
{"p":33,"z":1,"t":190.9,"v":-2.7,"e":13.3,"r":-0.6,"s":1,"u":1},
{"p":33,"z":1,"t":242.8,"v":-4,"e":12,"r":-1.15,"s":1,"u":0},
{"p":33,"z":2,"t":2.52,"v":-2.1,"e":9,"r":1.7,"s":1,"u":0},
{"p":33,"z":2,"t":3.21,"v":-6.1,"e":9,"r":1.4,"s":1,"u":0},
{"p":33,"z":2,"t":4.08,"v":-4.4,"e":8,"r":1.6,"s":1,"u":0},
{"p":33,"z":2,"t":5.19,"v":-4.7,"e":8,"r":1.5,"s":1,"u":0},
{"p":33,"z":2,"t":6.6,"v":-6.5,"e":9,"r":1.3,"s":1,"u":0},
{"p":33,"z":2,"t":8.39,"v":2.5,"e":9,"r":2.2,"s":1,"u":0},
{"p":33,"z":2,"t":10.67,"v":6.8,"e":10,"r":2.4,"s":1,"u":0},
{"p":33,"z":2,"t":13.57,"v":7.2,"e":10,"r":2.4,"s":1,"u":0},
{"p":33,"z":2,"t":17.26,"v":27,"e":11,"r":4.1,"s":1,"u":0},
{"p":33,"z":2,"t":21.94,"v":16.4,"e":12,"r":3.1,"s":1,"u":0},
{"p":33,"z":2,"t":27.91,"v":30.4,"e":12,"r":4.3,"s":1,"u":0},
{"p":33,"z":2,"t":35.49,"v":-1.3,"e":12,"r":1.6,"s":1,"u":0},
{"p":33,"z":2,"t":45.13,"v":6.8,"e":12,"r":2.4,"s":1,"u":0},
{"p":33,"z":2,"t":57.4,"v":27,"e":12,"r":4.1,"s":1,"u":0},
{"p":33,"z":2,"t":73,"v":16.7,"e":13,"r":3.4,"s":1,"u":0},
{"p":33,"z":2,"t":92.8,"v":-12,"e":13,"r":1.3,"s":1,"u":1},
{"p":33,"z":2,"t":118.1,"v":15.8,"e":12.7,"r":3.7,"s":1,"u":1},
{"p":33,"z":2,"t":150.1,"v":-0.9,"e":11.8,"r":2.5,"s":1,"u":1},
{"p":33,"z":2,"t":190.9,"v":5.2,"e":13.5,"r":3.1,"s":1,"u":1},
{"p":33,"z":2,"t":242.8,"v":-5.5,"e":12,"r":2.4,"s":1,"u":0},
{"p":33,"z":3,"t":2.52,"v":-1.3,"e":16.5,"r":5.25,"s":1,"u":0},
{"p":33,"z":3,"t":3.21,"v":54,"e":21,"r":8.2,"s":1,"u":0},
{"p":33,"z":3,"t":4.08,"v":-1.8,"e":15,"r":5.2,"s":1,"u":0},
{"p":33,"z":3,"t":5.19,"v":-7.3,"e":10,"r":4.8,"s":1,"u":0},
{"p":33,"z":3,"t":6.6,"v":52,"e":18,"r":8,"s":1,"u":0},
{"p":33,"z":3,"t":8.39,"v":-7.5,"e":9,"r":4.6,"s":1,"u":0},
{"p":33,"z":3,"t":10.67,"v":10.2,"e":17,"r":5.6,"s":1,"u":0},
{"p":33,"z":3,"t":13.57,"v":52,"e":23,"r":7.7,"s":1,"u":0},
{"p":33,"z":3,"t":17.26,"v":33.1,"e":17,"r":6.7,"s":1,"u":0},
{"p":33,"z":3,"t":21.94,"v":9.1,"e":17,"r":5.45,"s":1,"u":0},
{"p":33,"z":3,"t":27.91,"v":33.1,"e":17,"r":6.7,"s":1,"u":0},
{"p":33,"z":3,"t":35.49,"v":9.8,"e":17,"r":5.6,"s":1,"u":0},
{"p":33,"z":3,"t":45.13,"v":10.3,"e":17,"r":5.7,"s":1,"u":0},
{"p":33,"z":3,"t":57.4,"v":60,"e":14,"r":8.6,"s":1,"u":0},
{"p":33,"z":3,"t":73,"v":23,"e":21.5,"r":6.5,"s":1,"u":0},
{"p":33,"z":3,"t":92.8,"v":-6.1,"e":14,"r":5.35,"s":1,"u":0},
{"p":33,"z":3,"t":118.1,"v":42.1,"e":22,"r":7.5,"s":1,"u":1},
{"p":33,"z":3,"t":150.1,"v":58,"e":68,"r":8,"s":1,"u":1},
{"p":33,"z":3,"t":190.9,"v":-9,"e":22,"r":5.5,"s":1,"u":1},
{"p":33,"z":3,"t":242.8,"v":-5,"e":17,"r":5.5,"s":1,"u":0},

{"p":34,"z":1,"t":2.52,"v":-3.2,"e":6,"r":-2.2,"s":1,"u":0},
{"p":34,"z":1,"t":3.21,"v":-3.8,"e":6,"r":-2.25,"s":1,"u":0},
{"p":34,"z":1,"t":4.08,"v":-5.8,"e":6,"r":-2.4,"s":1,"u":0},
{"p":34,"z":1,"t":5.19,"v":-6.3,"e":6,"r":-2.4,"s":1,"u":0},
{"p":34,"z":1,"t":6.6,"v":-5.3,"e":8,"r":-2.3,"s":1,"u":0},
{"p":34,"z":1,"t":8.39,"v":-1.3,"e":9,"r":-1.8,"s":1,"u":0},
{"p":34,"z":1,"t":10.67,"v":1.4,"e":9,"r":-1.5,"s":1,"u":0},
{"p":34,"z":1,"t":13.57,"v":27.9,"e":12,"r":1.5,"s":1,"u":0},
{"p":34,"z":1,"t":17.26,"v":14.9,"e":10,"r":-0.2,"s":1,"u":0},
{"p":34,"z":1,"t":21.94,"v":27,"e":12,"r":1,"s":1,"u":0},
{"p":34,"z":1,"t":27.91,"v":21.2,"e":10,"r":0.35,"s":1,"u":0},
{"p":34,"z":1,"t":35.49,"v":-1.8,"e":12,"r":-2.25,"s":1,"u":0},
{"p":34,"z":1,"t":45.13,"v":20.6,"e":10,"r":0.2,"s":1,"u":0},
{"p":34,"z":1,"t":57.4,"v":13.7,"e":10,"r":-0.5,"s":1,"u":0},
{"p":34,"z":1,"t":73,"v":5.1,"e":10,"r":-1.15,"s":1,"u":0},
{"p":34,"z":1,"t":92.8,"v":0.5,"e":10.6,"r":-1.5,"s":1,"u":1},
{"p":34,"z":1,"t":118.1,"v":5.8,"e":10.5,"r":-0.7,"s":1,"u":1},
{"p":34,"z":1,"t":150.1,"v":-0.3,"e":10,"r":-1,"s":1,"u":1},
{"p":34,"z":1,"t":190.9,"v":-12,"e":10,"r":-1.4,"s":1,"u":1},
{"p":34,"z":1,"t":242.8,"v":-4.4,"e":10,"r":-0.8,"s":1,"u":0},
{"p":34,"z":2,"t":2.52,"v":-2.4,"e":8,"r":1.2,"s":1,"u":0},
{"p":34,"z":2,"t":3.21,"v":-2.1,"e":8,"r":1.2,"s":1,"u":0},
{"p":34,"z":2,"t":4.08,"v":-2.4,"e":8,"r":1,"s":1,"u":0},
{"p":34,"z":2,"t":5.19,"v":-4.4,"e":8,"r":0.9,"s":1,"u":0},
{"p":34,"z":2,"t":6.6,"v":27.1,"e":14,"r":4.4,"s":1,"u":0},
{"p":34,"z":2,"t":8.39,"v":27.1,"e":14,"r":4.25,"s":1,"u":0},
{"p":34,"z":2,"t":10.67,"v":40.6,"e":14,"r":5.5,"s":1,"u":0},
{"p":34,"z":2,"t":13.57,"v":20.4,"e":14,"r":3.3,"s":1,"u":0},
{"p":34,"z":2,"t":17.26,"v":7.4,"e":14,"r":1.8,"s":1,"u":0},
{"p":34,"z":2,"t":21.94,"v":8.3,"e":14,"r":1.8,"s":1,"u":0},
{"p":34,"z":2,"t":27.91,"v":21.3,"e":14,"r":3.1,"s":1,"u":0},
{"p":34,"z":2,"t":35.49,"v":35.2,"e":14,"r":4.6,"s":1,"u":0},
{"p":34,"z":2,"t":45.13,"v":23.9,"e":14,"r":3.45,"s":1,"u":0},
{"p":34,"z":2,"t":57.4,"v":-0.1,"e":14,"r":1.3,"s":1,"u":0},
{"p":34,"z":2,"t":73,"v":-3,"e":14,"r":1.3,"s":1,"u":0},
{"p":34,"z":2,"t":92.8,"v":13.8,"e":14,"r":3.1,"s":1,"u":0},
{"p":34,"z":2,"t":118.1,"v":18.5,"e":12,"r":3.7,"s":1,"u":1},
{"p":34,"z":2,"t":150.1,"v":19.3,"e":12,"r":4,"s":1,"u":1},
{"p":34,"z":2,"t":190.9,"v":-7,"e":11.5,"r":1.95,"s":1,"u":1},
{"p":34,"z":2,"t":242.8,"v":-5,"e":14,"r":2.1,"s":1,"u":0},
{"p":34,"z":3,"t":2.52,"v":-3.2,"e":13,"r":4.8,"s":1,"u":0},
{"p":34,"z":3,"t":3.21,"v":-3.8,"e":13,"r":4.75,"s":1,"u":0},
{"p":34,"z":3,"t":4.08,"v":-3.6,"e":13,"r":4.8,"s":1,"u":0},
{"p":34,"z":3,"t":5.19,"v":-4,"e":13,"r":4.7,"s":1,"u":0},
{"p":34,"z":3,"t":6.6,"v":19.8,"e":17,"r":6,"s":1,"u":0},
{"p":34,"z":3,"t":8.39,"v":12.3,"e":17,"r":5.5,"s":1,"u":0},
{"p":34,"z":3,"t":10.67,"v":52,"e":20,"r":8.8,"s":1,"u":0},
{"p":34,"z":3,"t":13.57,"v":44,"e":20,"r":7.1,"s":1,"u":0},
{"p":34,"z":3,"t":17.26,"v":14.9,"e":17,"r":5.45,"s":1,"u":0},
{"p":34,"z":3,"t":21.94,"v":48.3,"e":20,"r":7.2,"s":1,"u":0},
{"p":34,"z":3,"t":27.91,"v":21.3,"e":18,"r":7.5,"s":1,"u":0},
{"p":34,"z":3,"t":35.49,"v":55,"e":20,"r":8.2,"s":1,"u":0},
{"p":34,"z":3,"t":45.13,"v":35.4,"e":20,"r":6.65,"s":1,"u":0},
{"p":34,"z":3,"t":57.4,"v":16,"e":18,"r":5.75,"s":1,"u":0},
{"p":34,"z":3,"t":73,"v":44.6,"e":20,"r":7.35,"s":1,"u":0},
{"p":34,"z":3,"t":92.8,"v":18.3,"e":15,"r":6.3,"s":1,"u":0},
{"p":34,"z":3,"t":118.1,"v":15.8,"e":14,"r":6.3,"s":1,"u":0},
{"p":34,"z":3,"t":150.1,"v":1.7,"e":12,"r":5.75,"s":1,"u":0},
{"p":34,"z":3,"t":190.9,"v":2.9,"e":22,"r":5.85,"s":1,"u":1},
{"p":34,"z":3,"t":242.8,"v":-5,"e":15,"r":4.8,"s":1,"u":0},

{"p":44,"z":1,"t":2.52,"v":-4.4,"e":12,"r":-1.7,"s":1,"u":0},
{"p":44,"z":1,"t":3.21,"v":-4.4,"e":12,"r":-1.7,"s":1,"u":0},
{"p":44,"z":1,"t":4.08,"v":-4.4,"e":12,"r":-1.7,"s":1,"u":0},
{"p":44,"z":1,"t":5.19,"v":-4.4,"e":12,"r":-1.7,"s":1,"u":0},
{"p":44,"z":1,"t":6.6,"v":-7.8,"e":12,"r":-2,"s":1,"u":0},
{"p":44,"z":1,"t":8.39,"v":15.8,"e":13,"r":-0.2,"s":1,"u":0},
{"p":44,"z":1,"t":10.67,"v":5.1,"e":13,"r":-1,"s":1,"u":0},
{"p":44,"z":1,"t":13.57,"v":-3.6,"e":14,"r":-1.7,"s":1,"u":0},
{"p":44,"z":1,"t":17.26,"v":-8,"e":15,"r":-2.8,"s":1,"u":0},
{"p":44,"z":1,"t":21.94,"v":2,"e":15,"r":2.65,"s":1,"u":0},
{"p":44,"z":1,"t":27.91,"v":16.6,"e":15,"r":-0.5,"s":1,"u":0},
{"p":44,"z":1,"t":35.49,"v":12.6,"e":15,"r":-0.8,"s":1,"u":0},
{"p":44,"z":1,"t":45.13,"v":-5,"e":16,"r":-2,"s":1,"u":0},
{"p":44,"z":1,"t":57.4,"v":-3.8,"e":16,"r":-1.9,"s":1,"u":0},
{"p":44,"z":1,"t":73,"v":35.1,"e":18,"r":0.7,"s":1,"u":0},
{"p":44,"z":1,"t":92.8,"v":-6,"e":18,"r":-2,"s":1,"u":0},
{"p":44,"z":1,"t":118.1,"v":3.3,"e":17,"r":-0.86,"s":1,"u":1},
{"p":44,"z":1,"t":150.1,"v":19.8,"e":17.3,"r":0.3,"s":1,"u":1},
{"p":44,"z":1,"t":190.9,"v":-8.6,"e":17.7,"r":-1,"s":1,"u":1},
{"p":44,"z":1,"t":242.8,"v":14.9,"e":19,"r":0.45,"s":1,"u":0},
{"p":44,"z":2,"t":2.52,"v":-1.7,"e":14,"r":1.8,"s":1,"u":0},
{"p":44,"z":2,"t":3.21,"v":-2.7,"e":14,"r":1.7,"s":1,"u":0},
{"p":44,"z":2,"t":4.08,"v":-1.5,"e":15,"r":1.8,"s":1,"u":0},
{"p":44,"z":2,"t":5.19,"v":-6.1,"e":15,"r":1.4,"s":1,"u":0},
{"p":44,"z":2,"t":6.6,"v":-6.1,"e":15,"r":1.4,"s":1,"u":0},
{"p":44,"z":2,"t":8.39,"v":22.5,"e":16,"r":3.1,"s":1,"u":0},
{"p":44,"z":2,"t":10.67,"v":52,"e":17,"r":7.1,"s":1,"u":0},
{"p":44,"z":2,"t":13.57,"v":50,"e":17,"r":6.45,"s":1,"u":0},
{"p":44,"z":2,"t":17.26,"v":13.1,"e":18,"r":2.4,"s":1,"u":0},
{"p":44,"z":2,"t":21.94,"v":15.8,"e":17,"r":2.65,"s":1,"u":0},
{"p":44,"z":2,"t":27.91,"v":-8.7,"e":17,"r":1,"s":1,"u":0},
{"p":44,"z":2,"t":35.49,"v":38,"e":18,"r":5.1,"s":1,"u":0},
{"p":44,"z":2,"t":45.13,"v":39.4,"e":17,"r":3.8,"s":1,"u":0},
{"p":44,"z":2,"t":57.4,"v":23.3,"e":18,"r":3.1,"s":1,"u":0},
{"p":44,"z":2,"t":73,"v":-6.1,"e":20,"r":1.55,"s":1,"u":0},
{"p":44,"z":2,"t":92.8,"v":-1.3,"e":18,"r":2.1,"s":1,"u":0},
{"p":44,"z":2,"t":118.1,"v":27.6,"e":20,"r":3.7,"s":1,"u":0},
{"p":44,"z":2,"t":150.1,"v":-14,"e":22.7,"r":1.95,"s":1,"u":1},
{"p":44,"z":2,"t":190.9,"v":-20,"e":19,"r":1.7,"s":1,"u":1},
{"p":44,"z":2,"t":242.8,"v":2,"e":20,"r":1.15,"s":1,"u":0},
{"p":44,"z":3,"t":2.52,"v":-0.1,"e":29,"r":5.35,"s":1,"u":0},
{"p":44,"z":3,"t":3.21,"v":-5.8,"e":24,"r":5.2,"s":1,"u":0},
{"p":44,"z":3,"t":4.08,"v":-7,"e":24,"r":5.1,"s":1,"u":0},
{"p":44,"z":3,"t":5.19,"v":-1.5,"e":28,"r":5.2,"s":1,"u":0},
{"p":44,"z":3,"t":6.6,"v":-0.9,"e":28,"r":5.2,"s":1,"u":0},
{"p":44,"z":3,"t":8.39,"v":-4.2,"e":30,"r":5.1,"s":1,"u":0},
{"p":44,"z":3,"t":10.67,"v":52,"e":35,"r":8.45,"s":1,"u":0},
{"p":44,"z":3,"t":13.57,"v":-5,"e":30,"r":4.6,"s":1,"u":0},
{"p":44,"z":3,"t":17.26,"v":52,"e":35,"r":6.8,"s":1,"u":0},
{"p":44,"z":3,"t":21.94,"v":48,"e":35,"r":8.2,"s":1,"u":0},
{"p":44,"z":3,"t":27.91,"v":48.3,"e":40,"r":6.55,"s":1,"u":0},
{"p":44,"z":3,"t":35.49,"v":-3,"e":35,"r":4.65,"s":1,"u":0},
{"p":44,"z":3,"t":45.13,"v":26.8,"e":30,"r":6,"s":1,"u":0},
{"p":44,"z":3,"t":57.4,"v":21.6,"e":30,"r":5.9,"s":1,"u":0},
{"p":44,"z":3,"t":73,"v":13.5,"e":35,"r":5.75,"s":1,"u":0},
{"p":44,"z":3,"t":92.8,"v":30,"e":35,"r":6.8,"s":1,"u":0},
{"p":44,"z":3,"t":118.1,"v":28.5,"e":32,"r":6.5,"s":1,"u":0},
{"p":44,"z":3,"t":150.1,"v":5.4,"e":40,"r":5.9,"s":1,"u":0},
{"p":44,"z":3,"t":190.9,"v":-3,"e":35,"r":5.35,"s":1,"u":0},
{"p":44,"z":3,"t":242.8,"v":14,"e":35,"r":8.2,"s":1,"u":0}
]},
"spacing":-2,
"vconcat":[
{"spacing":-2,"vconcat":[
 {"transform":[{"filter":"floor(datum.p/10)==1"}],"spacing":0,"bounds":"flush",
  "facet":{"column":{"field":"p","type":"ordinal","title":null,"header":{"labelExpr":"'λ₂ bin: ' + (datum.value % 10)","title":null}}},
  "spec":{"width":318,"height":173,"layer":[
   {"encoding":{
     "x":{"field":"t","type":"quantitative","scale":{"type":"log","domain":[2.04,256.6],"nice":false},"axis":{"values":[3,4,5,6,7,8,9,10,20,30,40,50,60,70,80,90,100,200],"labels":false,"title":null,"tickSize":{"condition":{"test":"datum.value==10||datum.value==100","value":-8},"value":-4}}},
     "y":{"field":"v","type":"quantitative","scale":{"domain":[-10,50],"nice":false,"zero":false},"axis":{"values":[-5,0,5,10,15,20,25,30,35,40,45],"labelExpr":"datum.value%20==0?datum.label:''","labelPadding":15,"titlePadding":14,"tickSize":{"condition":{"test":"datum.value%20==0","value":-8},"value":-4},"title":"θw_cc(θ)"}},
     "color":{"field":"z","type":"nominal","scale":{"domain":[1,2,3],"range":["#0173b2","#de8f05","#029e73"]}}},
    "layer":[
     {"transform":[{"filter":"datum.u===0"}],"mark":{"type":"errorbar","opacity":0.22,"thickness":1.5,"ticks":true,"size":7,"clip":true},"encoding":{"yError":{"field":"e"}}},
     {"transform":[{"filter":"datum.u===0"}],"mark":{"type":"point","opacity":0.28,"size":60,"strokeWidth":1.2,"clip":true}},
     {"transform":[{"filter":"datum.u===1"}],"mark":{"type":"errorbar","thickness":2,"ticks":true,"size":7,"clip":true},"encoding":{"yError":{"field":"e"}}},
     {"transform":[{"filter":"datum.u===1"}],"mark":{"type":"point","filled":true,"opacity":1,"size":54,"clip":true},
      "encoding":{"color":{"field":"z","type":"nominal","scale":{"domain":[1,2,3],"range":["#0173b2","#de8f05","#029e73"]},
       "legend":{"orient":"none","legendX":164,"legendY":18,"title":null,"direction":"vertical","symbolType":"M-0.38,0A0.38,0.38,0,1,0,0.38,0A0.38,0.38,0,1,0,-0.38,0Z M-0.045,-0.9L0.045,-0.9L0.045,-0.39L-0.045,-0.39Z M-0.045,0.39L0.045,0.39L0.045,0.9L-0.045,0.9Z M-0.32,-1L0.32,-1L0.32,-0.87L-0.32,-0.87Z M-0.32,0.87L0.32,0.87L0.32,1L-0.32,1Z","symbolSize":484,"symbolStrokeWidth":0,"symbolOpacity":1,"labelFont":"DejaVu Serif","labelFontSize":20,"labelColor":"#262626","labelExpr":"'z_c bin=' + datum.label","rowPadding":8,"labelOffset":26}}}}
    ]},
   {"transform":[{"filter":"datum.lab"}],"mark":{"type":"text","align":"left","baseline":"middle","fontSize":20,"fontWeight":"bold","font":"DejaVu Serif","color":"#262626"},
    "encoding":{"text":{"field":"lab"},
     "x":{"datum":2.95,"type":"quantitative","scale":{"type":"log","domain":[2.04,256.6],"nice":false},"axis":{"values":[3,4,5,6,7,8,9,10,20,30,40,50,60,70,80,90,100,200],"labels":false,"title":null,"tickSize":{"condition":{"test":"datum.value==10||datum.value==100","value":-8},"value":-4}}},
     "y":{"datum":43.5,"type":"quantitative","scale":{"domain":[-10,50],"nice":false,"zero":false},"axis":{"values":[-5,0,5,10,15,20,25,30,35,40,45],"labelExpr":"datum.value%20==0?datum.label:''","labelPadding":15,"titlePadding":14,"tickSize":{"condition":{"test":"datum.value%20==0","value":-8},"value":-4},"title":"θw_cc(θ)"}}}}
  ]}},
 {"transform":[{"filter":"floor(datum.p/10)==1"}],"spacing":0,"bounds":"flush",
  "facet":{"column":{"field":"p","type":"ordinal","title":null,"header":{"labels":false,"title":null}}},
  "spec":{"width":318,"height":115,"layer":[
   {"transform":[{"filter":"datum.lo!=null"}],"mark":{"type":"rect","opacity":0.2},"encoding":{
     "x":{"datum":2.52,"type":"quantitative","scale":{"type":"log","domain":[2.04,256.6],"nice":false},"axis":{"values":[3,4,5,6,7,8,9,10,20,30,40,50,60,70,80,90,100,200],"labelExpr":"datum.value==10?'10¹':datum.value==100?'10²':''","labelPadding":15,"title":null,"tickSize":{"condition":{"test":"datum.value==10||datum.value==100","value":-8},"value":-4}}},
     "x2":{"datum":242.8},
     "y":{"field":"lo","type":"quantitative","scale":{"domain":[-3,9],"nice":false,"zero":false},"axis":{"values":[-2,-1,0,1,2,3,4,5,6,7,8],"labelExpr":"datum.value%5==0?datum.label:''","labelPadding":15,"titlePadding":12,"titleFontSize":16,"tickSize":{"condition":{"test":"datum.value%5==0","value":-8},"value":-4},"title":"Δ_wcc/σ_wcc"}},
     "y2":{"field":"hi"},
     "color":{"field":"z","type":"nominal","scale":{"domain":[1,2,3],"range":["#0173b2","#de8f05","#029e73"]}}}},
   {"transform":[{"filter":"datum.lo!=null"}],"mark":{"type":"rule","strokeWidth":1.3},"encoding":{
     "x":{"datum":2.04,"type":"quantitative","scale":{"type":"log","domain":[2.04,256.6],"nice":false},"axis":{"values":[3,4,5,6,7,8,9,10,20,30,40,50,60,70,80,90,100,200],"labelExpr":"datum.value==10?'10¹':datum.value==100?'10²':''","labelPadding":15,"title":null,"tickSize":{"condition":{"test":"datum.value==10||datum.value==100","value":-8},"value":-4}}},
     "x2":{"datum":256.6},
     "y":{"field":"c","type":"quantitative","scale":{"domain":[-3,9],"nice":false,"zero":false},"axis":{"values":[-2,-1,0,1,2,3,4,5,6,7,8],"labelExpr":"datum.value%5==0?datum.label:''","labelPadding":15,"titlePadding":12,"titleFontSize":16,"tickSize":{"condition":{"test":"datum.value%5==0","value":-8},"value":-4},"title":"Δ_wcc/σ_wcc"}},
     "color":{"field":"z","type":"nominal","scale":{"domain":[1,2,3],"range":["#0173b2","#de8f05","#029e73"]}}}},
   {"encoding":{
     "x":{"field":"t","type":"quantitative","scale":{"type":"log","domain":[2.04,256.6],"nice":false},"axis":{"values":[3,4,5,6,7,8,9,10,20,30,40,50,60,70,80,90,100,200],"labelExpr":"datum.value==10?'10¹':datum.value==100?'10²':''","labelPadding":15,"title":null,"tickSize":{"condition":{"test":"datum.value==10||datum.value==100","value":-8},"value":-4}}},
     "y":{"field":"r","type":"quantitative","scale":{"domain":[-3,9],"nice":false,"zero":false},"axis":{"values":[-2,-1,0,1,2,3,4,5,6,7,8],"labelExpr":"datum.value%5==0?datum.label:''","labelPadding":15,"titlePadding":12,"titleFontSize":16,"tickSize":{"condition":{"test":"datum.value%5==0","value":-8},"value":-4},"title":"Δ_wcc/σ_wcc"}},
     "color":{"field":"z","type":"nominal","scale":{"domain":[1,2,3],"range":["#0173b2","#de8f05","#029e73"]}}},
    "layer":[
     {"transform":[{"filter":"datum.u===0"}],"mark":{"type":"errorbar","opacity":0.22,"thickness":1.5,"ticks":true,"size":7,"clip":true},"encoding":{"yError":{"field":"s"}}},
     {"transform":[{"filter":"datum.u===0"}],"mark":{"type":"point","filled":true,"opacity":0.25,"size":54,"clip":true}},
     {"transform":[{"filter":"datum.u===1"}],"mark":{"type":"errorbar","thickness":2,"ticks":true,"size":7,"clip":true},"encoding":{"yError":{"field":"s"}}},
     {"transform":[{"filter":"datum.u===1"}],"mark":{"type":"line","strokeWidth":2,"clip":true}},
     {"transform":[{"filter":"datum.u===1"}],"mark":{"type":"point","filled":true,"opacity":1,"size":54,"clip":true}}
    ]}
  ]}}
]},
{"spacing":-2,"vconcat":[
 {"transform":[{"filter":"floor(datum.p/10)==2"}],"spacing":0,"bounds":"flush",
  "facet":{"column":{"field":"p","type":"ordinal","title":null,"header":{"labels":false,"title":null}}},
  "spec":{"width":318,"height":173,"layer":[
   {"encoding":{
     "x":{"field":"t","type":"quantitative","scale":{"type":"log","domain":[2.04,256.6],"nice":false},"axis":{"values":[3,4,5,6,7,8,9,10,20,30,40,50,60,70,80,90,100,200],"labels":false,"title":null,"tickSize":{"condition":{"test":"datum.value==10||datum.value==100","value":-8},"value":-4}}},
     "y":{"field":"v","type":"quantitative","scale":{"domain":[-10,50],"nice":false,"zero":false},"axis":{"values":[-5,0,5,10,15,20,25,30,35,40,45],"labelExpr":"datum.value%20==0?datum.label:''","labelPadding":15,"titlePadding":14,"tickSize":{"condition":{"test":"datum.value%20==0","value":-8},"value":-4},"title":"θw_cc(θ)"}},
     "color":{"field":"z","type":"nominal","scale":{"domain":[1,2,3],"range":["#0173b2","#de8f05","#029e73"]}}},
    "layer":[
     {"transform":[{"filter":"datum.u===0"}],"mark":{"type":"errorbar","opacity":0.22,"thickness":1.5,"ticks":true,"size":7,"clip":true},"encoding":{"yError":{"field":"e"}}},
     {"transform":[{"filter":"datum.u===0"}],"mark":{"type":"point","opacity":0.28,"size":60,"strokeWidth":1.2,"clip":true}},
     {"transform":[{"filter":"datum.u===1"}],"mark":{"type":"errorbar","thickness":2,"ticks":true,"size":7,"clip":true},"encoding":{"yError":{"field":"e"}}},
     {"transform":[{"filter":"datum.u===1"}],"mark":{"type":"point","filled":true,"opacity":1,"size":54,"clip":true}}
    ]},
   {"transform":[{"filter":"datum.lab"}],"mark":{"type":"text","align":"left","baseline":"middle","fontSize":20,"fontWeight":"bold","font":"DejaVu Serif","color":"#262626"},
    "encoding":{"text":{"field":"lab"},
     "x":{"datum":2.95,"type":"quantitative","scale":{"type":"log","domain":[2.04,256.6],"nice":false},"axis":{"values":[3,4,5,6,7,8,9,10,20,30,40,50,60,70,80,90,100,200],"labels":false,"title":null,"tickSize":{"condition":{"test":"datum.value==10||datum.value==100","value":-8},"value":-4}}},
     "y":{"datum":43.5,"type":"quantitative","scale":{"domain":[-10,50],"nice":false,"zero":false},"axis":{"values":[-5,0,5,10,15,20,25,30,35,40,45],"labelExpr":"datum.value%20==0?datum.label:''","labelPadding":15,"titlePadding":14,"tickSize":{"condition":{"test":"datum.value%20==0","value":-8},"value":-4},"title":"θw_cc(θ)"}}}}
  ]}},
 {"transform":[{"filter":"floor(datum.p/10)==2"}],"spacing":0,"bounds":"flush",
  "facet":{"column":{"field":"p","type":"ordinal","title":null,"header":{"labels":false,"title":null}}},
  "spec":{"width":318,"height":115,"layer":[
   {"transform":[{"filter":"datum.lo!=null"}],"mark":{"type":"rect","opacity":0.2},"encoding":{
     "x":{"datum":2.52,"type":"quantitative","scale":{"type":"log","domain":[2.04,256.6],"nice":false},"axis":{"values":[3,4,5,6,7,8,9,10,20,30,40,50,60,70,80,90,100,200],"labelExpr":"datum.value==10?'10¹':datum.value==100?'10²':''","labelPadding":15,"title":null,"tickSize":{"condition":{"test":"datum.value==10||datum.value==100","value":-8},"value":-4}}},
     "x2":{"datum":242.8},
     "y":{"field":"lo","type":"quantitative","scale":{"domain":[-3,9],"nice":false,"zero":false},"axis":{"values":[-2,-1,0,1,2,3,4,5,6,7,8],"labelExpr":"datum.value%5==0?datum.label:''","labelPadding":15,"titlePadding":12,"titleFontSize":16,"tickSize":{"condition":{"test":"datum.value%5==0","value":-8},"value":-4},"title":"Δ_wcc/σ_wcc"}},
     "y2":{"field":"hi"},
     "color":{"field":"z","type":"nominal","scale":{"domain":[1,2,3],"range":["#0173b2","#de8f05","#029e73"]}}}},
   {"transform":[{"filter":"datum.lo!=null"}],"mark":{"type":"rule","strokeWidth":1.3},"encoding":{
     "x":{"datum":2.04,"type":"quantitative","scale":{"type":"log","domain":[2.04,256.6],"nice":false},"axis":{"values":[3,4,5,6,7,8,9,10,20,30,40,50,60,70,80,90,100,200],"labelExpr":"datum.value==10?'10¹':datum.value==100?'10²':''","labelPadding":15,"title":null,"tickSize":{"condition":{"test":"datum.value==10||datum.value==100","value":-8},"value":-4}}},
     "x2":{"datum":256.6},
     "y":{"field":"c","type":"quantitative","scale":{"domain":[-3,9],"nice":false,"zero":false},"axis":{"values":[-2,-1,0,1,2,3,4,5,6,7,8],"labelExpr":"datum.value%5==0?datum.label:''","labelPadding":15,"titlePadding":12,"titleFontSize":16,"tickSize":{"condition":{"test":"datum.value%5==0","value":-8},"value":-4},"title":"Δ_wcc/σ_wcc"}},
     "color":{"field":"z","type":"nominal","scale":{"domain":[1,2,3],"range":["#0173b2","#de8f05","#029e73"]}}}},
   {"encoding":{
     "x":{"field":"t","type":"quantitative","scale":{"type":"log","domain":[2.04,256.6],"nice":false},"axis":{"values":[3,4,5,6,7,8,9,10,20,30,40,50,60,70,80,90,100,200],"labelExpr":"datum.value==10?'10¹':datum.value==100?'10²':''","labelPadding":15,"title":null,"tickSize":{"condition":{"test":"datum.value==10||datum.value==100","value":-8},"value":-4}}},
     "y":{"field":"r","type":"quantitative","scale":{"domain":[-3,9],"nice":false,"zero":false},"axis":{"values":[-2,-1,0,1,2,3,4,5,6,7,8],"labelExpr":"datum.value%5==0?datum.label:''","labelPadding":15,"titlePadding":12,"titleFontSize":16,"tickSize":{"condition":{"test":"datum.value%5==0","value":-8},"value":-4},"title":"Δ_wcc/σ_wcc"}},
     "color":{"field":"z","type":"nominal","scale":{"domain":[1,2,3],"range":["#0173b2","#de8f05","#029e73"]}}},
    "layer":[
     {"transform":[{"filter":"datum.u===0"}],"mark":{"type":"errorbar","opacity":0.22,"thickness":1.5,"ticks":true,"size":7,"clip":true},"encoding":{"yError":{"field":"s"}}},
     {"transform":[{"filter":"datum.u===0"}],"mark":{"type":"point","filled":true,"opacity":0.25,"size":54,"clip":true}},
     {"transform":[{"filter":"datum.u===1"}],"mark":{"type":"errorbar","thickness":2,"ticks":true,"size":7,"clip":true},"encoding":{"yError":{"field":"s"}}},
     {"transform":[{"filter":"datum.u===1"}],"mark":{"type":"line","strokeWidth":2,"clip":true}},
     {"transform":[{"filter":"datum.u===1"}],"mark":{"type":"point","filled":true,"opacity":1,"size":54,"clip":true}}
    ]}
  ]}}
]},
{"spacing":-2,"vconcat":[
 {"transform":[{"filter":"floor(datum.p/10)==3"}],"spacing":0,"bounds":"flush",
  "facet":{"column":{"field":"p","type":"ordinal","title":null,"header":{"labels":false,"title":null}}},
  "spec":{"width":318,"height":173,"layer":[
   {"encoding":{
     "x":{"field":"t","type":"quantitative","scale":{"type":"log","domain":[2.04,256.6],"nice":false},"axis":{"values":[3,4,5,6,7,8,9,10,20,30,40,50,60,70,80,90,100,200],"labels":false,"title":null,"tickSize":{"condition":{"test":"datum.value==10||datum.value==100","value":-8},"value":-4}}},
     "y":{"field":"v","type":"quantitative","scale":{"domain":[-10,50],"nice":false,"zero":false},"axis":{"values":[-5,0,5,10,15,20,25,30,35,40,45],"labelExpr":"datum.value%20==0?datum.label:''","labelPadding":15,"titlePadding":14,"tickSize":{"condition":{"test":"datum.value%20==0","value":-8},"value":-4},"title":"θw_cc(θ)"}},
     "color":{"field":"z","type":"nominal","scale":{"domain":[1,2,3],"range":["#0173b2","#de8f05","#029e73"]}}},
    "layer":[
     {"transform":[{"filter":"datum.u===0"}],"mark":{"type":"errorbar","opacity":0.22,"thickness":1.5,"ticks":true,"size":7,"clip":true},"encoding":{"yError":{"field":"e"}}},
     {"transform":[{"filter":"datum.u===0"}],"mark":{"type":"point","opacity":0.28,"size":60,"strokeWidth":1.2,"clip":true}},
     {"transform":[{"filter":"datum.u===1"}],"mark":{"type":"errorbar","thickness":2,"ticks":true,"size":7,"clip":true},"encoding":{"yError":{"field":"e"}}},
     {"transform":[{"filter":"datum.u===1"}],"mark":{"type":"point","filled":true,"opacity":1,"size":54,"clip":true}}
    ]},
   {"transform":[{"filter":"datum.lab"}],"mark":{"type":"text","align":"left","baseline":"middle","fontSize":20,"fontWeight":"bold","font":"DejaVu Serif","color":"#262626"},
    "encoding":{"text":{"field":"lab"},
     "x":{"datum":2.95,"type":"quantitative","scale":{"type":"log","domain":[2.04,256.6],"nice":false},"axis":{"values":[3,4,5,6,7,8,9,10,20,30,40,50,60,70,80,90,100,200],"labels":false,"title":null,"tickSize":{"condition":{"test":"datum.value==10||datum.value==100","value":-8},"value":-4}}},
     "y":{"datum":43.5,"type":"quantitative","scale":{"domain":[-10,50],"nice":false,"zero":false},"axis":{"values":[-5,0,5,10,15,20,25,30,35,40,45],"labelExpr":"datum.value%20==0?datum.label:''","labelPadding":15,"titlePadding":14,"tickSize":{"condition":{"test":"datum.value%20==0","value":-8},"value":-4},"title":"θw_cc(θ)"}}}}
  ]}},
 {"transform":[{"filter":"floor(datum.p/10)==3"}],"spacing":0,"bounds":"flush",
  "facet":{"column":{"field":"p","type":"ordinal","title":null,"header":{"labels":false,"title":null}}},
  "spec":{"width":318,"height":115,"layer":[
   {"transform":[{"filter":"datum.lo!=null"}],"mark":{"type":"rect","opacity":0.2},"encoding":{
     "x":{"datum":2.52,"type":"quantitative","scale":{"type":"log","domain":[2.04,256.6],"nice":false},"axis":{"values":[3,4,5,6,7,8,9,10,20,30,40,50,60,70,80,90,100,200],"labelExpr":"datum.value==10?'10¹':datum.value==100?'10²':''","labelPadding":15,"title":null,"tickSize":{"condition":{"test":"datum.value==10||datum.value==100","value":-8},"value":-4}}},
     "x2":{"datum":242.8},
     "y":{"field":"lo","type":"quantitative","scale":{"domain":[-3,9],"nice":false,"zero":false},"axis":{"values":[-2,-1,0,1,2,3,4,5,6,7,8],"labelExpr":"datum.value%5==0?datum.label:''","labelPadding":15,"titlePadding":12,"titleFontSize":16,"tickSize":{"condition":{"test":"datum.value%5==0","value":-8},"value":-4},"title":"Δ_wcc/σ_wcc"}},
     "y2":{"field":"hi"},
     "color":{"field":"z","type":"nominal","scale":{"domain":[1,2,3],"range":["#0173b2","#de8f05","#029e73"]}}}},
   {"transform":[{"filter":"datum.lo!=null"}],"mark":{"type":"rule","strokeWidth":1.3},"encoding":{
     "x":{"datum":2.04,"type":"quantitative","scale":{"type":"log","domain":[2.04,256.6],"nice":false},"axis":{"values":[3,4,5,6,7,8,9,10,20,30,40,50,60,70,80,90,100,200],"labelExpr":"datum.value==10?'10¹':datum.value==100?'10²':''","labelPadding":15,"title":null,"tickSize":{"condition":{"test":"datum.value==10||datum.value==100","value":-8},"value":-4}}},
     "x2":{"datum":256.6},
     "y":{"field":"c","type":"quantitative","scale":{"domain":[-3,9],"nice":false,"zero":false},"axis":{"values":[-2,-1,0,1,2,3,4,5,6,7,8],"labelExpr":"datum.value%5==0?datum.label:''","labelPadding":15,"titlePadding":12,"titleFontSize":16,"tickSize":{"condition":{"test":"datum.value%5==0","value":-8},"value":-4},"title":"Δ_wcc/σ_wcc"}},
     "color":{"field":"z","type":"nominal","scale":{"domain":[1,2,3],"range":["#0173b2","#de8f05","#029e73"]}}}},
   {"encoding":{
     "x":{"field":"t","type":"quantitative","scale":{"type":"log","domain":[2.04,256.6],"nice":false},"axis":{"values":[3,4,5,6,7,8,9,10,20,30,40,50,60,70,80,90,100,200],"labelExpr":"datum.value==10?'10¹':datum.value==100?'10²':''","labelPadding":15,"title":null,"tickSize":{"condition":{"test":"datum.value==10||datum.value==100","value":-8},"value":-4}}},
     "y":{"field":"r","type":"quantitative","scale":{"domain":[-3,9],"nice":false,"zero":false},"axis":{"values":[-2,-1,0,1,2,3,4,5,6,7,8],"labelExpr":"datum.value%5==0?datum.label:''","labelPadding":15,"titlePadding":12,"titleFontSize":16,"tickSize":{"condition":{"test":"datum.value%5==0","value":-8},"value":-4},"title":"Δ_wcc/σ_wcc"}},
     "color":{"field":"z","type":"nominal","scale":{"domain":[1,2,3],"range":["#0173b2","#de8f05","#029e73"]}}},
    "layer":[
     {"transform":[{"filter":"datum.u===0"}],"mark":{"type":"errorbar","opacity":0.22,"thickness":1.5,"ticks":true,"size":7,"clip":true},"encoding":{"yError":{"field":"s"}}},
     {"transform":[{"filter":"datum.u===0"}],"mark":{"type":"point","filled":true,"opacity":0.25,"size":54,"clip":true}},
     {"transform":[{"filter":"datum.u===1"}],"mark":{"type":"errorbar","thickness":2,"ticks":true,"size":7,"clip":true},"encoding":{"yError":{"field":"s"}}},
     {"transform":[{"filter":"datum.u===1"}],"mark":{"type":"line","strokeWidth":2,"clip":true}},
     {"transform":[{"filter":"datum.u===1"}],"mark":{"type":"point","filled":true,"opacity":1,"size":54,"clip":true}}
    ]}
  ]}}
]},
{"spacing":-2,"vconcat":[
 {"transform":[{"filter":"floor(datum.p/10)==4"}],"spacing":0,"bounds":"flush",
  "facet":{"column":{"field":"p","type":"ordinal","title":null,"header":{"labels":false,"title":null}}},
  "spec":{"width":318,"height":173,"layer":[
   {"encoding":{
     "x":{"field":"t","type":"quantitative","scale":{"type":"log","domain":[2.04,256.6],"nice":false},"axis":{"values":[3,4,5,6,7,8,9,10,20,30,40,50,60,70,80,90,100,200],"labels":false,"title":null,"tickSize":{"condition":{"test":"datum.value==10||datum.value==100","value":-8},"value":-4}}},
     "y":{"field":"v","type":"quantitative","scale":{"domain":[-10,50],"nice":false,"zero":false},"axis":{"values":[-5,0,5,10,15,20,25,30,35,40,45],"labelExpr":"datum.value%20==0?datum.label:''","labelPadding":15,"titlePadding":14,"tickSize":{"condition":{"test":"datum.value%20==0","value":-8},"value":-4},"title":"θw_cc(θ)"}},
     "color":{"field":"z","type":"nominal","scale":{"domain":[1,2,3],"range":["#0173b2","#de8f05","#029e73"]}}},
    "layer":[
     {"transform":[{"filter":"datum.u===0"}],"mark":{"type":"errorbar","opacity":0.22,"thickness":1.5,"ticks":true,"size":7,"clip":true},"encoding":{"yError":{"field":"e"}}},
     {"transform":[{"filter":"datum.u===0"}],"mark":{"type":"point","opacity":0.28,"size":60,"strokeWidth":1.2,"clip":true}},
     {"transform":[{"filter":"datum.u===1"}],"mark":{"type":"errorbar","thickness":2,"ticks":true,"size":7,"clip":true},"encoding":{"yError":{"field":"e"}}},
     {"transform":[{"filter":"datum.u===1"}],"mark":{"type":"point","filled":true,"opacity":1,"size":54,"clip":true}}
    ]},
   {"transform":[{"filter":"datum.lab"}],"mark":{"type":"text","align":"left","baseline":"middle","fontSize":20,"fontWeight":"bold","font":"DejaVu Serif","color":"#262626"},
    "encoding":{"text":{"field":"lab"},
     "x":{"datum":2.95,"type":"quantitative","scale":{"type":"log","domain":[2.04,256.6],"nice":false},"axis":{"values":[3,4,5,6,7,8,9,10,20,30,40,50,60,70,80,90,100,200],"labels":false,"title":null,"tickSize":{"condition":{"test":"datum.value==10||datum.value==100","value":-8},"value":-4}}},
     "y":{"datum":43.5,"type":"quantitative","scale":{"domain":[-10,50],"nice":false,"zero":false},"axis":{"values":[-5,0,5,10,15,20,25,30,35,40,45],"labelExpr":"datum.value%20==0?datum.label:''","labelPadding":15,"titlePadding":14,"tickSize":{"condition":{"test":"datum.value%20==0","value":-8},"value":-4},"title":"θw_cc(θ)"}}}}
  ]}},
 {"transform":[{"filter":"floor(datum.p/10)==4"}],"spacing":0,"bounds":"flush",
  "facet":{"column":{"field":"p","type":"ordinal","title":null,"header":{"labels":false,"title":null}}},
  "spec":{"width":318,"height":115,"layer":[
   {"transform":[{"filter":"datum.lo!=null"}],"mark":{"type":"rect","opacity":0.2},"encoding":{
     "x":{"datum":2.52,"type":"quantitative","scale":{"type":"log","domain":[2.04,256.6],"nice":false},"axis":{"values":[3,4,5,6,7,8,9,10,20,30,40,50,60,70,80,90,100,200],"labelExpr":"datum.value==10?'10¹':datum.value==100?'10²':''","labelPadding":15,"title":"θ [arcmin]","titlePadding":6,"tickSize":{"condition":{"test":"datum.value==10||datum.value==100","value":-8},"value":-4}}},
     "x2":{"datum":242.8},
     "y":{"field":"lo","type":"quantitative","scale":{"domain":[-3,9],"nice":false,"zero":false},"axis":{"values":[-2,-1,0,1,2,3,4,5,6,7,8],"labelExpr":"datum.value%5==0?datum.label:''","labelPadding":15,"titlePadding":12,"titleFontSize":16,"tickSize":{"condition":{"test":"datum.value%5==0","value":-8},"value":-4},"title":"Δ_wcc/σ_wcc"}},
     "y2":{"field":"hi"},
     "color":{"field":"z","type":"nominal","scale":{"domain":[1,2,3],"range":["#0173b2","#de8f05","#029e73"]}}}},
   {"transform":[{"filter":"datum.lo!=null"}],"mark":{"type":"rule","strokeWidth":1.3},"encoding":{
     "x":{"datum":2.04,"type":"quantitative","scale":{"type":"log","domain":[2.04,256.6],"nice":false},"axis":{"values":[3,4,5,6,7,8,9,10,20,30,40,50,60,70,80,90,100,200],"labelExpr":"datum.value==10?'10¹':datum.value==100?'10²':''","labelPadding":15,"title":"θ [arcmin]","titlePadding":6,"tickSize":{"condition":{"test":"datum.value==10||datum.value==100","value":-8},"value":-4}}},
     "x2":{"datum":256.6},
     "y":{"field":"c","type":"quantitative","scale":{"domain":[-3,9],"nice":false,"zero":false},"axis":{"values":[-2,-1,0,1,2,3,4,5,6,7,8],"labelExpr":"datum.value%5==0?datum.label:''","labelPadding":15,"titlePadding":12,"titleFontSize":16,"tickSize":{"condition":{"test":"datum.value%5==0","value":-8},"value":-4},"title":"Δ_wcc/σ_wcc"}},
     "color":{"field":"z","type":"nominal","scale":{"domain":[1,2,3],"range":["#0173b2","#de8f05","#029e73"]}}}},
   {"encoding":{
     "x":{"field":"t","type":"quantitative","scale":{"type":"log","domain":[2.04,256.6],"nice":false},"axis":{"values":[3,4,5,6,7,8,9,10,20,30,40,50,60,70,80,90,100,200],"labelExpr":"datum.value==10?'10¹':datum.value==100?'10²':''","labelPadding":15,"title":"θ [arcmin]","titlePadding":6,"tickSize":{"condition":{"test":"datum.value==10||datum.value==100","value":-8},"value":-4}}},
     "y":{"field":"r","type":"quantitative","scale":{"domain":[-3,9],"nice":false,"zero":false},"axis":{"values":[-2,-1,0,1,2,3,4,5,6,7,8],"labelExpr":"datum.value%5==0?datum.label:''","labelPadding":15,"titlePadding":12,"titleFontSize":16,"tickSize":{"condition":{"test":"datum.value%5==0","value":-8},"value":-4},"title":"Δ_wcc/σ_wcc"}},
     "color":{"field":"z","type":"nominal","scale":{"domain":[1,2,3],"range":["#0173b2","#de8f05","#029e73"]}}},
    "layer":[
     {"transform":[{"filter":"datum.u===0"}],"mark":{"type":"errorbar","opacity":0.22,"thickness":1.5,"ticks":true,"size":7,"clip":true},"encoding":{"yError":{"field":"s"}}},
     {"transform":[{"filter":"datum.u===0"}],"mark":{"type":"point","filled":true,"opacity":0.25,"size":54,"clip":true}},
     {"transform":[{"filter":"datum.u===1"}],"mark":{"type":"errorbar","thickness":2,"ticks":true,"size":7,"clip":true},"encoding":{"yError":{"field":"s"}}},
     {"transform":[{"filter":"datum.u===1"}],"mark":{"type":"line","strokeWidth":2,"clip":true}},
     {"transform":[{"filter":"datum.u===1"}],"mark":{"type":"point","filled":true,"opacity":1,"size":54,"clip":true}}
    ]}
  ]}}
]}
]
}
